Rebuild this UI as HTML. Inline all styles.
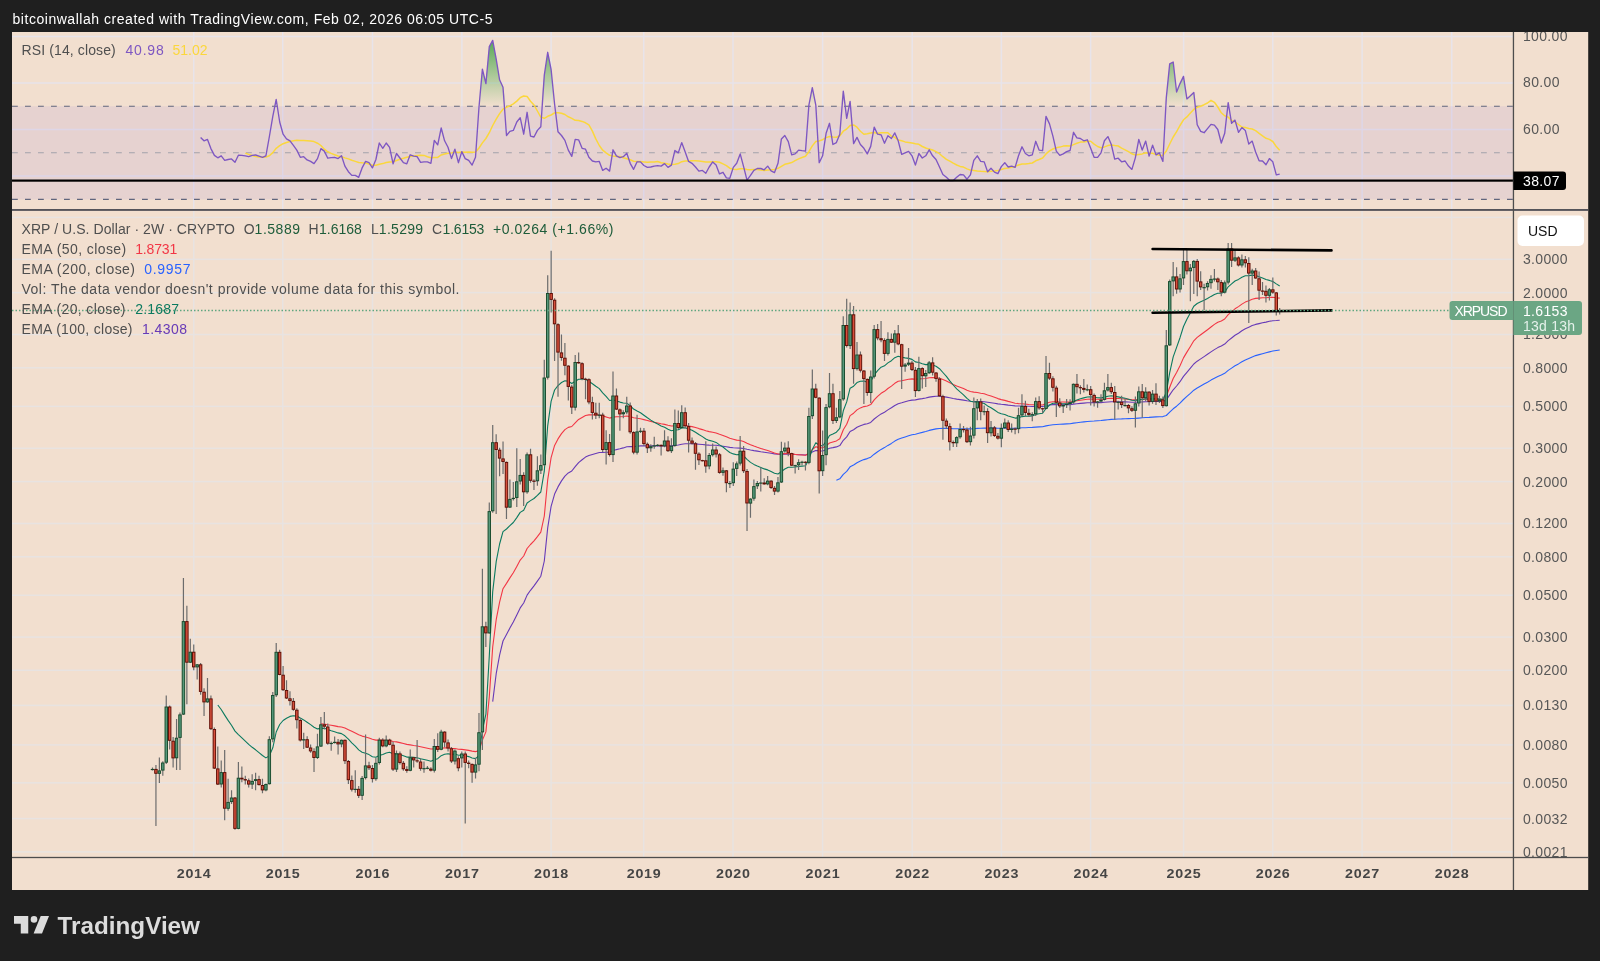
<!DOCTYPE html>
<html><head><meta charset="utf-8"><title>XRPUSD chart</title>
<style>html,body{margin:0;padding:0;background:#1f1f1f;width:1600px;height:961px;overflow:hidden}</style></head>
<body>
<svg width="1600" height="961" viewBox="0 0 1600 961" style="position:absolute;left:0;top:0;will-change:transform;font-family:'Liberation Sans',sans-serif">
<rect x="0" y="0" width="1600" height="961" fill="#1f1f1f"/>
<rect x="12" y="32" width="1576.2" height="858" fill="#f2dfcf"/>
<defs>
<clipPath id="cr"><rect x="12" y="32" width="1501.45" height="178.5"/></clipPath>
<clipPath id="cm"><rect x="12" y="210.5" width="1501.45" height="647.0"/></clipPath>
<clipPath id="cax"><rect x="1513.45" y="32" width="74.75" height="178.5"/></clipPath>
<clipPath id="cax2"><rect x="1513.45" y="210.5" width="74.75" height="647.0"/></clipPath>
<linearGradient id="og" x1="0" y1="36" x2="0" y2="106.4" gradientUnits="userSpaceOnUse">
<stop offset="0" stop-color="#43a047" stop-opacity="0.95"/><stop offset="1" stop-color="#4caf50" stop-opacity="0"/></linearGradient>
</defs>
<g clip-path="url(#cr)">
<rect x="12" y="35.75" width="1501.45" height="1.5" fill="#e8e4ea"/>
<rect x="12" y="82.25" width="1501.45" height="1.5" fill="#e8e4ea"/>
<rect x="12" y="128.75" width="1501.45" height="1.5" fill="#e8e4ea"/>
<rect x="12" y="175.25" width="1501.45" height="1.5" fill="#e8e4ea"/>
<rect x="193.0" y="32" width="1.5" height="178.5" fill="#e8e4ea"/>
<rect x="282.0" y="32" width="1.5" height="178.5" fill="#e8e4ea"/>
<rect x="371.75" y="32" width="1.5" height="178.5" fill="#e8e4ea"/>
<rect x="461.15" y="32" width="1.5" height="178.5" fill="#e8e4ea"/>
<rect x="550.35" y="32" width="1.5" height="178.5" fill="#e8e4ea"/>
<rect x="642.95" y="32" width="1.5" height="178.5" fill="#e8e4ea"/>
<rect x="732.25" y="32" width="1.5" height="178.5" fill="#e8e4ea"/>
<rect x="821.85" y="32" width="1.5" height="178.5" fill="#e8e4ea"/>
<rect x="911.45" y="32" width="1.5" height="178.5" fill="#e8e4ea"/>
<rect x="1000.65" y="32" width="1.5" height="178.5" fill="#e8e4ea"/>
<rect x="1089.85" y="32" width="1.5" height="178.5" fill="#e8e4ea"/>
<rect x="1182.85" y="32" width="1.5" height="178.5" fill="#e8e4ea"/>
<rect x="1272.05" y="32" width="1.5" height="178.5" fill="#e8e4ea"/>
<rect x="1361.35" y="32" width="1.5" height="178.5" fill="#e8e4ea"/>
<rect x="1450.95" y="32" width="1.5" height="178.5" fill="#e8e4ea"/>
<rect x="12" y="106.24" width="1501.45" height="93.16" fill="#9c7bd8" fill-opacity="0.13"/>
<line x1="12" x2="1513.45" y1="106.24" y2="106.24" stroke="#60657d" stroke-width="1.1" stroke-dasharray="5.8 7.2"/>
<line x1="12" x2="1513.45" y1="152.82" y2="152.82" stroke="#a3a2ab" stroke-width="1.1" stroke-dasharray="5.8 7.2"/>
<line x1="12" x2="1513.45" y1="199.40" y2="199.40" stroke="#60657d" stroke-width="1.1" stroke-dasharray="5.8 7.2"/>
<path d="M200.6 106.2L204.0 106.2L207.5 106.2L210.9 106.2L214.4 106.2L217.8 106.2L221.2 106.2L224.7 106.2L228.1 106.2L231.5 106.2L235.0 106.2L238.4 106.2L241.9 106.2L245.3 106.2L248.7 106.2L252.2 106.2L255.6 106.2L259.0 106.2L262.5 106.2L265.9 106.2L269.3 106.2L272.8 106.2L276.2 99.5L279.7 106.2L283.1 106.2L286.5 106.2L290.0 106.2L293.4 106.2L296.8 106.2L300.3 106.2L303.7 106.2L307.1 106.2L310.6 106.2L314.0 106.2L317.5 106.2L320.9 106.2L324.3 106.2L327.8 106.2L331.2 106.2L334.6 106.2L338.1 106.2L341.5 106.2L344.9 106.2L348.4 106.2L351.8 106.2L355.3 106.2L358.7 106.2L362.1 106.2L365.6 106.2L369.0 106.2L372.4 106.2L375.9 106.2L379.3 106.2L382.8 106.2L386.2 106.2L389.6 106.2L393.1 106.2L396.5 106.2L399.9 106.2L403.4 106.2L406.8 106.2L410.2 106.2L413.7 106.2L417.1 106.2L420.6 106.2L424.0 106.2L427.4 106.2L430.9 106.2L434.3 106.2L437.7 106.2L441.2 106.2L444.6 106.2L448.0 106.2L451.5 106.2L454.9 106.2L458.4 106.2L461.8 106.2L465.2 106.2L468.7 106.2L472.1 106.2L475.5 106.2L479.0 106.2L482.4 69.1L485.9 83.6L489.3 46.6L492.7 40.4L496.2 59.2L499.6 79.8L503.0 87.3L506.5 106.2L509.9 106.2L513.3 106.2L516.8 106.2L520.2 106.2L523.7 106.2L527.1 106.2L530.5 106.2L534.0 106.2L537.4 106.2L540.8 106.2L544.3 75.1L547.7 52.3L551.1 69.5L554.6 104.2L558.0 106.2L561.5 106.2L564.9 106.2L568.3 106.2L571.8 106.2L575.2 106.2L578.6 106.2L582.1 106.2L585.5 106.2L588.9 106.2L592.4 106.2L595.8 106.2L599.3 106.2L602.7 106.2L606.1 106.2L609.6 106.2L613.0 106.2L616.4 106.2L619.9 106.2L623.3 106.2L626.8 106.2L630.2 106.2L633.6 106.2L637.1 106.2L640.5 106.2L643.9 106.2L647.4 106.2L650.8 106.2L654.2 106.2L657.7 106.2L661.1 106.2L664.6 106.2L668.0 106.2L671.4 106.2L674.9 106.2L678.3 106.2L681.7 106.2L685.2 106.2L688.6 106.2L692.0 106.2L695.5 106.2L698.9 106.2L702.4 106.2L705.8 106.2L709.2 106.2L712.7 106.2L716.1 106.2L719.5 106.2L723.0 106.2L726.4 106.2L729.8 106.2L733.3 106.2L736.7 106.2L740.2 106.2L743.6 106.2L747.0 106.2L750.5 106.2L753.9 106.2L757.3 106.2L760.8 106.2L764.2 106.2L767.7 106.2L771.1 106.2L774.5 106.2L778.0 106.2L781.4 106.2L784.8 106.2L788.3 106.2L791.7 106.2L795.1 106.2L798.6 106.2L802.0 106.2L805.5 106.2L808.9 105.1L812.3 87.7L815.8 105.1L819.2 106.2L822.6 106.2L826.1 106.2L829.5 106.2L832.9 106.2L836.4 106.2L839.8 106.2L843.3 91.1L846.7 106.2L850.1 101.4L853.6 106.2L857.0 106.2L860.4 106.2L863.9 106.2L867.3 106.2L870.7 106.2L874.2 106.2L877.6 106.2L881.1 106.2L884.5 106.2L887.9 106.2L891.4 106.2L894.8 106.2L898.2 106.2L901.7 106.2L905.1 106.2L908.6 106.2L912.0 106.2L915.4 106.2L918.9 106.2L922.3 106.2L925.7 106.2L929.2 106.2L932.6 106.2L936.0 106.2L939.5 106.2L942.9 106.2L946.4 106.2L949.8 106.2L953.2 106.2L956.7 106.2L960.1 106.2L963.5 106.2L967.0 106.2L970.4 106.2L973.8 106.2L977.3 106.2L980.7 106.2L984.2 106.2L987.6 106.2L991.0 106.2L994.5 106.2L997.9 106.2L1001.3 106.2L1004.8 106.2L1008.2 106.2L1011.6 106.2L1015.1 106.2L1018.5 106.2L1022.0 106.2L1025.4 106.2L1028.8 106.2L1032.3 106.2L1035.7 106.2L1039.1 106.2L1042.6 106.2L1046.0 106.2L1049.5 106.2L1052.9 106.2L1056.3 106.2L1059.8 106.2L1063.2 106.2L1066.6 106.2L1070.1 106.2L1073.5 106.2L1076.9 106.2L1080.4 106.2L1083.8 106.2L1087.3 106.2L1090.7 106.2L1094.1 106.2L1097.6 106.2L1101.0 106.2L1104.4 106.2L1107.9 106.2L1111.3 106.2L1114.7 106.2L1118.2 106.2L1121.6 106.2L1125.1 106.2L1128.5 106.2L1131.9 106.2L1135.4 106.2L1138.8 106.2L1142.2 106.2L1145.7 106.2L1149.1 106.2L1152.6 106.2L1156.0 106.2L1159.4 106.2L1162.9 106.2L1166.3 97.6L1169.7 63.9L1173.2 62.0L1176.6 92.0L1180.0 83.6L1183.5 76.4L1186.9 98.9L1190.4 95.8L1193.8 92.4L1197.2 106.2L1200.7 106.2L1204.1 106.2L1207.5 106.2L1211.0 106.2L1214.4 106.2L1217.8 106.2L1221.3 106.2L1224.7 106.2L1228.2 102.7L1231.6 106.2L1235.0 106.2L1238.5 106.2L1241.9 106.2L1245.3 106.2L1248.8 106.2L1252.2 106.2L1255.6 106.2L1259.1 106.2L1262.5 106.2L1266.0 106.2L1269.4 106.2L1272.8 106.2L1276.3 106.2L1279.7 106.2L1279.7 106.2L200.6 106.2Z" fill="url(#og)" stroke="none"/>
<path d="M245.3 153.1 L248.7 154.4 L252.2 155.5 L255.6 156.6 L259.0 157.1 L262.5 157.3 L265.9 157.1 L269.3 155.8 L272.8 152.6 L276.2 148.3 L279.7 145.7 L283.1 143.7 L286.5 142.5 L290.0 141.5 L293.4 140.7 L296.8 140.3 L300.3 140.4 L303.7 140.5 L307.1 140.8 L310.6 141.1 L314.0 141.6 L317.5 143.2 L320.9 145.5 L324.3 149.2 L327.8 151.8 L331.2 153.4 L334.6 154.7 L338.1 156.0 L341.5 156.8 L344.9 157.9 L348.4 158.9 L351.8 160.3 L355.3 161.4 L358.7 162.5 L362.1 162.8 L365.6 163.0 L369.0 164.0 L372.4 165.2 L375.9 165.3 L379.3 164.3 L382.8 163.6 L386.2 162.5 L389.6 161.9 L393.1 161.8 L396.5 160.5 L399.9 159.2 L403.4 158.3 L406.8 157.3 L410.2 156.4 L413.7 156.0 L417.1 155.6 L420.6 155.2 L424.0 155.4 L427.4 156.7 L430.9 157.8 L434.3 157.6 L437.7 157.4 L441.2 154.9 L444.6 154.0 L448.0 153.2 L451.5 152.9 L454.9 151.9 L458.4 152.4 L461.8 152.1 L465.2 152.2 L468.7 152.1 L472.1 152.3 L475.5 152.0 L479.0 148.0 L482.4 142.9 L485.9 138.5 L489.3 132.7 L492.7 125.5 L496.2 119.2 L499.6 113.6 L503.0 109.2 L506.5 107.3 L509.9 105.8 L513.3 103.8 L516.8 101.1 L520.2 97.7 L523.7 96.0 L527.1 96.4 L530.5 101.2 L534.0 105.0 L537.4 111.0 L540.8 117.1 L544.3 118.3 L547.7 116.3 L551.1 115.0 L554.6 112.8 L558.0 112.8 L561.5 113.2 L564.9 114.5 L568.3 116.8 L571.8 118.4 L575.2 120.3 L578.6 120.6 L582.1 121.4 L585.5 122.8 L588.9 124.9 L592.4 131.1 L595.8 138.9 L599.3 145.5 L602.7 150.2 L606.1 152.8 L609.6 155.3 L613.0 156.0 L616.4 156.4 L619.9 156.5 L623.3 157.7 L626.8 158.7 L630.2 159.8 L633.6 161.2 L637.1 161.5 L640.5 161.6 L643.9 161.9 L647.4 162.3 L650.8 162.0 L654.2 161.9 L657.7 161.5 L661.1 162.7 L664.6 163.2 L668.0 163.9 L671.4 164.5 L674.9 164.3 L678.3 163.6 L681.7 161.7 L685.2 161.0 L688.6 160.9 L692.0 160.8 L695.5 160.8 L698.9 161.1 L702.4 161.4 L705.8 161.9 L709.2 162.0 L712.7 161.8 L716.1 161.7 L719.5 162.3 L723.0 163.9 L726.4 165.6 L729.8 168.2 L733.3 169.3 L736.7 169.4 L740.2 168.8 L743.6 168.7 L747.0 169.4 L750.5 169.7 L753.9 169.5 L757.3 169.6 L760.8 170.1 L764.2 170.4 L767.7 169.9 L771.1 169.8 L774.5 169.4 L778.0 168.3 L781.4 166.3 L784.8 164.3 L788.3 163.4 L791.7 162.6 L795.1 160.7 L798.6 158.9 L802.0 157.5 L805.5 156.3 L808.9 151.7 L812.3 145.9 L815.8 141.5 L819.2 140.9 L822.6 139.7 L826.1 137.6 L829.5 136.5 L832.9 137.1 L836.4 137.2 L839.8 135.7 L843.3 131.2 L846.7 129.0 L850.1 125.4 L853.6 124.9 L857.0 127.2 L860.4 131.3 L863.9 134.3 L867.3 133.7 L870.7 133.0 L874.2 132.6 L877.6 133.4 L881.1 132.7 L884.5 132.7 L887.9 132.8 L891.4 136.2 L894.8 137.3 L898.2 140.1 L901.7 140.8 L905.1 141.9 L908.6 142.4 L912.0 143.0 L915.4 143.8 L918.9 144.3 L922.3 146.5 L925.7 148.0 L929.2 149.1 L932.6 150.0 L936.0 151.7 L939.5 153.7 L942.9 156.7 L946.4 159.3 L949.8 161.2 L953.2 163.2 L956.7 165.0 L960.1 166.4 L963.5 167.1 L967.0 168.9 L970.4 170.1 L973.8 170.4 L977.3 170.9 L980.7 171.3 L984.2 171.4 L987.6 171.8 L991.0 171.3 L994.5 171.0 L997.9 170.5 L1001.3 169.5 L1004.8 168.4 L1008.2 167.9 L1011.6 167.3 L1015.1 166.4 L1018.5 165.0 L1022.0 164.1 L1025.4 163.9 L1028.8 163.5 L1032.3 163.0 L1035.7 160.8 L1039.1 159.5 L1042.6 158.0 L1046.0 153.9 L1049.5 150.9 L1052.9 149.0 L1056.3 147.8 L1059.8 147.1 L1063.2 146.1 L1066.6 145.8 L1070.1 146.1 L1073.5 144.6 L1076.9 143.3 L1080.4 142.1 L1083.8 142.1 L1087.3 141.3 L1090.7 141.2 L1094.1 144.1 L1097.6 146.5 L1101.0 147.7 L1104.4 146.9 L1107.9 145.6 L1111.3 144.9 L1114.7 145.5 L1118.2 146.0 L1121.6 148.1 L1125.1 149.8 L1128.5 151.7 L1131.9 153.8 L1135.4 155.1 L1138.8 154.4 L1142.2 153.9 L1145.7 152.8 L1149.1 153.0 L1152.6 153.3 L1156.0 154.6 L1159.4 155.2 L1162.9 155.4 L1166.3 151.0 L1169.7 144.0 L1173.2 137.0 L1176.6 131.7 L1180.0 125.5 L1183.5 119.8 L1186.9 116.9 L1190.4 113.0 L1193.8 109.5 L1197.2 107.3 L1200.7 106.3 L1204.1 104.7 L1207.5 103.0 L1211.0 100.3 L1214.4 102.3 L1217.8 107.0 L1221.3 112.8 L1224.7 115.7 L1228.2 117.1 L1231.6 120.4 L1235.0 121.9 L1238.5 124.5 L1241.9 127.1 L1245.3 127.5 L1248.8 128.4 L1252.2 129.0 L1255.6 130.7 L1259.1 133.3 L1262.5 135.8 L1266.0 138.3 L1269.4 139.4 L1272.8 141.5 L1276.3 146.6 L1279.7 150.3" stroke="#fbd73c" stroke-width="1.5" fill="none" stroke-linejoin="round"/>
<path d="M200.6 137.4 L204.0 140.8 L207.5 139.4 L210.9 148.6 L214.4 155.4 L217.8 157.8 L221.2 155.8 L224.7 160.4 L228.1 159.5 L231.5 158.9 L235.0 162.3 L238.4 155.2 L241.9 155.4 L245.3 155.9 L248.7 156.7 L252.2 155.4 L255.6 155.0 L259.0 156.1 L262.5 157.3 L265.9 155.8 L269.3 137.0 L272.8 116.4 L276.2 99.5 L279.7 122.0 L283.1 134.2 L286.5 138.9 L290.0 140.8 L293.4 145.4 L296.8 150.1 L300.3 157.3 L303.7 156.7 L307.1 159.9 L310.6 161.4 L314.0 163.6 L317.5 158.6 L320.9 148.6 L324.3 151.1 L327.8 158.2 L331.2 157.6 L334.6 157.3 L338.1 158.6 L341.5 155.8 L344.9 166.1 L348.4 171.7 L351.8 175.4 L355.3 175.4 L358.7 177.3 L362.1 167.9 L365.6 161.4 L369.0 162.7 L372.4 167.9 L375.9 159.5 L379.3 143.0 L382.8 148.3 L386.2 143.0 L389.6 147.3 L393.1 163.8 L396.5 153.5 L399.9 158.0 L403.4 162.7 L406.8 163.8 L410.2 154.8 L413.7 156.1 L417.1 156.7 L420.6 162.3 L424.0 161.8 L427.4 161.9 L430.9 163.3 L434.3 140.4 L437.7 144.9 L441.2 128.0 L444.6 140.8 L448.0 147.3 L451.5 158.6 L454.9 149.2 L458.4 162.7 L461.8 151.6 L465.2 158.6 L468.7 160.4 L472.1 165.1 L475.5 157.3 L479.0 107.0 L482.4 69.1 L485.9 83.6 L489.3 46.6 L492.7 40.4 L496.2 59.2 L499.6 79.8 L503.0 87.3 L506.5 135.5 L509.9 131.4 L513.3 130.4 L516.8 122.0 L520.2 117.7 L523.7 134.2 L527.1 112.3 L530.5 136.1 L534.0 137.0 L537.4 130.4 L540.8 126.7 L544.3 75.1 L547.7 52.3 L551.1 69.5 L554.6 104.2 L558.0 131.8 L561.5 135.5 L564.9 140.4 L568.3 150.1 L571.8 156.3 L575.2 139.4 L578.6 139.8 L582.1 148.3 L585.5 149.2 L588.9 157.3 L592.4 161.0 L595.8 161.8 L599.3 161.4 L602.7 170.4 L606.1 168.3 L609.6 171.1 L613.0 149.8 L616.4 155.8 L619.9 157.6 L623.3 156.7 L626.8 153.3 L630.2 163.3 L633.6 169.3 L637.1 161.8 L640.5 161.9 L643.9 165.5 L647.4 167.4 L650.8 167.0 L654.2 166.1 L657.7 165.7 L661.1 166.1 L664.6 163.6 L668.0 167.4 L671.4 165.1 L674.9 150.5 L678.3 152.9 L681.7 142.6 L685.2 152.0 L688.6 161.4 L692.0 163.3 L695.5 167.0 L698.9 171.1 L702.4 170.4 L705.8 173.2 L709.2 167.0 L712.7 161.9 L716.1 165.1 L719.5 173.9 L723.0 172.3 L726.4 177.9 L729.8 178.3 L733.3 167.4 L736.7 163.3 L740.2 153.9 L743.6 166.6 L747.0 180.1 L750.5 175.4 L753.9 170.4 L757.3 168.5 L760.8 168.5 L764.2 169.8 L767.7 166.1 L771.1 170.8 L774.5 172.6 L778.0 163.3 L781.4 138.9 L784.8 135.5 L788.3 141.7 L791.7 154.8 L795.1 153.9 L798.6 150.1 L802.0 150.7 L805.5 151.1 L808.9 105.1 L812.3 87.7 L815.8 105.1 L819.2 162.7 L822.6 155.8 L826.1 133.3 L829.5 123.3 L832.9 144.5 L836.4 142.6 L839.8 134.2 L843.3 91.1 L846.7 118.3 L850.1 101.4 L853.6 143.6 L857.0 137.4 L860.4 144.5 L863.9 148.3 L867.3 153.9 L870.7 146.4 L874.2 127.1 L877.6 134.2 L881.1 134.8 L884.5 143.2 L887.9 135.7 L891.4 138.5 L894.8 132.9 L898.2 140.8 L901.7 154.3 L905.1 152.9 L908.6 151.4 L912.0 155.8 L915.4 165.1 L918.9 153.5 L922.3 158.0 L925.7 155.8 L929.2 149.8 L932.6 155.8 L936.0 159.5 L939.5 167.0 L942.9 174.5 L946.4 177.3 L949.8 180.5 L953.2 180.5 L956.7 177.3 L960.1 174.5 L963.5 174.9 L967.0 179.2 L970.4 174.9 L973.8 160.4 L977.3 155.8 L980.7 161.4 L984.2 161.9 L987.6 171.7 L991.0 168.3 L994.5 172.1 L997.9 173.6 L1001.3 166.6 L1004.8 162.7 L1008.2 167.0 L1011.6 166.1 L1015.1 167.4 L1018.5 155.8 L1022.0 146.8 L1025.4 153.5 L1028.8 155.8 L1032.3 154.8 L1035.7 141.3 L1039.1 150.1 L1042.6 150.7 L1046.0 116.4 L1049.5 123.9 L1052.9 136.1 L1056.3 151.1 L1059.8 155.4 L1063.2 153.9 L1066.6 151.6 L1070.1 150.5 L1073.5 132.3 L1076.9 137.9 L1080.4 138.5 L1083.8 140.8 L1087.3 139.8 L1090.7 148.3 L1094.1 157.3 L1097.6 157.3 L1101.0 152.9 L1104.4 140.8 L1107.9 136.6 L1111.3 144.5 L1114.7 159.1 L1118.2 158.2 L1121.6 161.8 L1125.1 161.0 L1128.5 166.1 L1131.9 169.4 L1135.4 157.6 L1138.8 139.4 L1142.2 150.1 L1145.7 141.1 L1149.1 156.1 L1152.6 145.1 L1156.0 154.8 L1159.4 152.9 L1162.9 161.4 L1166.3 97.6 L1169.7 63.9 L1173.2 62.0 L1176.6 92.0 L1180.0 83.6 L1183.5 76.4 L1186.9 98.9 L1190.4 95.8 L1193.8 92.4 L1197.2 124.8 L1200.7 131.4 L1204.1 132.7 L1207.5 128.6 L1211.0 124.4 L1214.4 125.2 L1217.8 129.5 L1221.3 143.0 L1224.7 133.3 L1228.2 102.7 L1231.6 123.3 L1235.0 120.1 L1238.5 132.3 L1241.9 127.6 L1245.3 130.4 L1248.8 144.1 L1252.2 141.1 L1255.6 152.0 L1259.1 160.8 L1262.5 161.0 L1266.0 164.8 L1269.4 158.6 L1272.8 161.8 L1276.3 174.9 L1279.7 174.1" stroke="#7e57c2" stroke-width="1.35" fill="none" stroke-linejoin="round"/>
<rect x="12" y="179.5" width="1501.45" height="2.2" fill="#000"/>
</g>
<g clip-path="url(#cm)">
<rect x="12" y="258.5511944792916" width="1501.45" height="1.5" fill="#e8e3e1"/>
<rect x="12" y="291.83851157865007" width="1501.45" height="1.5" fill="#e8e3e1"/>
<rect x="12" y="333.77455880560325" width="1501.45" height="1.5" fill="#e8e3e1"/>
<rect x="12" y="367.0598237042494" width="1501.45" height="1.5" fill="#e8e3e1"/>
<rect x="12" y="405.6409651657526" width="1501.45" height="1.5" fill="#e8e3e1"/>
<rect x="12" y="447.5688051285905" width="1501.45" height="1.5" fill="#e8e3e1"/>
<rect x="12" y="480.84381286992004" width="1501.45" height="1.5" fill="#e8e3e1"/>
<rect x="12" y="522.7552481464779" width="1501.45" height="1.5" fill="#e8e3e1"/>
<rect x="12" y="556.0097607849323" width="1501.45" height="1.5" fill="#e8e3e1"/>
<rect x="12" y="594.5355836401772" width="1501.45" height="1.5" fill="#e8e3e1"/>
<rect x="12" y="636.3651918033619" width="1501.45" height="1.5" fill="#e8e3e1"/>
<rect x="12" y="669.5176115875945" width="1501.45" height="1.5" fill="#e8e3e1"/>
<rect x="12" y="704.6652443044301" width="1501.45" height="1.5" fill="#e8e3e1"/>
<rect x="12" y="744.1346689406373" width="1501.45" height="1.5" fill="#e8e3e1"/>
<rect x="12" y="782.1160600925774" width="1501.45" height="1.5" fill="#e8e3e1"/>
<rect x="12" y="817.8556737428466" width="1501.45" height="1.5" fill="#e8e3e1"/>
<rect x="12" y="851.1443591185268" width="1501.45" height="1.5" fill="#e8e3e1"/>
<rect x="12" y="216.61350540558016" width="1501.45" height="1.5" fill="#e8e3e1"/>
<rect x="193.0" y="210.5" width="1.5" height="647.0" fill="#e8e3e1"/>
<rect x="282.0" y="210.5" width="1.5" height="647.0" fill="#e8e3e1"/>
<rect x="371.75" y="210.5" width="1.5" height="647.0" fill="#e8e3e1"/>
<rect x="461.15" y="210.5" width="1.5" height="647.0" fill="#e8e3e1"/>
<rect x="550.35" y="210.5" width="1.5" height="647.0" fill="#e8e3e1"/>
<rect x="642.95" y="210.5" width="1.5" height="647.0" fill="#e8e3e1"/>
<rect x="732.25" y="210.5" width="1.5" height="647.0" fill="#e8e3e1"/>
<rect x="821.85" y="210.5" width="1.5" height="647.0" fill="#e8e3e1"/>
<rect x="911.45" y="210.5" width="1.5" height="647.0" fill="#e8e3e1"/>
<rect x="1000.65" y="210.5" width="1.5" height="647.0" fill="#e8e3e1"/>
<rect x="1089.85" y="210.5" width="1.5" height="647.0" fill="#e8e3e1"/>
<rect x="1182.85" y="210.5" width="1.5" height="647.0" fill="#e8e3e1"/>
<rect x="1272.05" y="210.5" width="1.5" height="647.0" fill="#e8e3e1"/>
<rect x="1361.35" y="210.5" width="1.5" height="647.0" fill="#e8e3e1"/>
<rect x="1450.95" y="210.5" width="1.5" height="647.0" fill="#e8e3e1"/>
<path d="M836.4 480.2 L839.8 478.8 L843.3 474.4 L846.7 471.4 L850.1 466.8 L853.6 465.0 L857.0 462.7 L860.4 461.0 L863.9 459.6 L867.3 458.6 L870.7 457.2 L874.2 454.2 L877.6 451.7 L881.1 449.4 L884.5 447.6 L887.9 445.4 L891.4 443.4 L894.8 441.1 L898.2 439.3 L901.7 438.1 L905.1 436.9 L908.6 435.8 L912.0 434.8 L915.4 434.2 L918.9 433.2 L922.3 432.4 L925.7 431.5 L929.2 430.4 L932.6 429.6 L936.0 428.9 L939.5 428.5 L942.9 428.4 L946.4 428.4 L949.8 428.5 L953.2 428.7 L956.7 428.7 L960.1 428.7 L963.5 428.8 L967.0 428.9 L970.4 428.9 L973.8 428.7 L977.3 428.4 L980.7 428.2 L984.2 428.0 L987.6 428.1 L991.0 428.1 L994.5 428.1 L997.9 428.2 L1001.3 428.2 L1004.8 428.2 L1008.2 428.2 L1011.6 428.2 L1015.1 428.2 L1018.5 428.1 L1022.0 427.8 L1025.4 427.7 L1028.8 427.5 L1032.3 427.4 L1035.7 427.1 L1039.1 426.9 L1042.6 426.7 L1046.0 425.9 L1049.5 425.3 L1052.9 424.8 L1056.3 424.5 L1059.8 424.3 L1063.2 424.1 L1066.6 423.9 L1070.1 423.7 L1073.5 423.1 L1076.9 422.7 L1080.4 422.3 L1083.8 421.9 L1087.3 421.5 L1090.7 421.2 L1094.1 421.0 L1097.6 420.7 L1101.0 420.5 L1104.4 420.1 L1107.9 419.7 L1111.3 419.4 L1114.7 419.2 L1118.2 419.0 L1121.6 418.9 L1125.1 418.7 L1128.5 418.6 L1131.9 418.5 L1135.4 418.4 L1138.8 418.1 L1142.2 417.8 L1145.7 417.5 L1149.1 417.4 L1152.6 417.1 L1156.0 416.9 L1159.4 416.7 L1162.9 416.6 L1166.3 415.5 L1169.7 412.2 L1173.2 408.8 L1176.6 406.2 L1180.0 403.2 L1183.5 399.5 L1186.9 396.4 L1190.4 393.4 L1193.8 390.2 L1197.2 388.0 L1200.7 386.0 L1204.1 384.1 L1207.5 382.2 L1211.0 380.1 L1214.4 378.2 L1217.8 376.4 L1221.3 374.9 L1224.7 373.3 L1228.2 370.4 L1231.6 368.1 L1235.0 365.8 L1238.5 363.9 L1241.9 361.8 L1245.3 359.9 L1248.8 358.4 L1252.2 356.9 L1255.6 355.6 L1259.1 354.6 L1262.5 353.7 L1266.0 352.8 L1269.4 351.9 L1272.8 351.0 L1276.3 350.5 L1279.7 350.0" stroke="#2962ff" stroke-width="1.1" fill="none" stroke-linejoin="round"/>
<path d="M492.7 701.6 L496.2 673.7 L499.6 655.2 L503.0 641.0 L506.5 634.6 L509.9 628.1 L513.3 622.0 L516.8 614.9 L520.2 607.9 L523.7 603.0 L527.1 595.1 L530.5 590.3 L534.0 585.9 L537.4 581.1 L540.8 576.2 L544.3 561.0 L547.7 527.9 L551.1 506.4 L554.6 494.1 L558.0 486.9 L561.5 480.9 L564.9 476.1 L568.3 472.9 L571.8 471.0 L575.2 466.6 L578.6 462.6 L582.1 459.8 L585.5 457.1 L588.9 455.6 L592.4 454.5 L595.8 453.5 L599.3 452.5 L602.7 452.5 L606.1 452.2 L609.6 452.3 L613.0 450.7 L616.4 449.6 L619.9 448.8 L623.3 447.9 L626.8 446.8 L630.2 446.5 L633.6 446.6 L637.1 446.2 L640.5 445.9 L643.9 445.9 L647.4 445.9 L650.8 445.9 L654.2 445.9 L657.7 445.9 L661.1 445.9 L664.6 445.8 L668.0 445.9 L671.4 445.9 L674.9 445.4 L678.3 445.0 L681.7 444.2 L685.2 443.8 L688.6 443.7 L692.0 443.7 L695.5 443.9 L698.9 444.2 L702.4 444.5 L705.8 444.9 L709.2 445.1 L712.7 445.2 L716.1 445.3 L719.5 445.8 L723.0 446.2 L726.4 446.8 L729.8 447.4 L733.3 447.8 L736.7 448.0 L740.2 448.1 L743.6 448.5 L747.0 449.3 L750.5 450.0 L753.9 450.6 L757.3 451.1 L760.8 451.7 L764.2 452.2 L767.7 452.7 L771.1 453.3 L774.5 453.9 L778.0 454.3 L781.4 454.3 L784.8 454.1 L788.3 454.1 L791.7 454.3 L795.1 454.5 L798.6 454.7 L802.0 454.8 L805.5 455.0 L808.9 454.0 L812.3 452.0 L815.8 450.5 L819.2 450.9 L822.6 451.0 L826.1 449.8 L829.5 448.2 L832.9 447.6 L836.4 446.9 L839.8 445.6 L843.3 440.3 L846.7 436.9 L850.1 431.5 L853.6 429.7 L857.0 427.3 L860.4 425.7 L863.9 424.4 L867.3 423.7 L870.7 422.4 L874.2 419.0 L877.6 416.4 L881.1 413.9 L884.5 412.2 L887.9 409.9 L891.4 407.8 L894.8 405.5 L898.2 403.7 L901.7 402.8 L905.1 401.8 L908.6 400.8 L912.0 400.1 L915.4 399.9 L918.9 399.1 L922.3 398.6 L925.7 398.0 L929.2 397.1 L932.6 396.6 L936.0 396.2 L939.5 396.2 L942.9 396.6 L946.4 397.1 L949.8 397.8 L953.2 398.5 L956.7 399.1 L960.1 399.6 L963.5 400.1 L967.0 400.8 L970.4 401.3 L973.8 401.5 L977.3 401.5 L980.7 401.6 L984.2 401.8 L987.6 402.3 L991.0 402.8 L994.5 403.3 L997.9 403.9 L1001.3 404.3 L1004.8 404.6 L1008.2 405.1 L1011.6 405.5 L1015.1 405.9 L1018.5 406.0 L1022.0 406.0 L1025.4 406.2 L1028.8 406.3 L1032.3 406.5 L1035.7 406.4 L1039.1 406.4 L1042.6 406.5 L1046.0 405.7 L1049.5 405.0 L1052.9 404.6 L1056.3 404.6 L1059.8 404.6 L1063.2 404.6 L1066.6 404.6 L1070.1 404.6 L1073.5 404.1 L1076.9 403.7 L1080.4 403.4 L1083.8 403.1 L1087.3 402.8 L1090.7 402.7 L1094.1 402.6 L1097.6 402.6 L1101.0 402.6 L1104.4 402.3 L1107.9 402.0 L1111.3 401.8 L1114.7 401.8 L1118.2 401.8 L1121.6 401.8 L1125.1 401.9 L1128.5 402.0 L1131.9 402.2 L1135.4 402.2 L1138.8 402.0 L1142.2 401.9 L1145.7 401.7 L1149.1 401.7 L1152.6 401.5 L1156.0 401.5 L1159.4 401.5 L1162.9 401.6 L1166.3 400.0 L1169.7 394.9 L1173.2 389.8 L1176.6 386.0 L1180.0 381.7 L1183.5 376.4 L1186.9 372.3 L1190.4 368.2 L1193.8 364.0 L1197.2 361.2 L1200.7 358.9 L1204.1 356.6 L1207.5 354.3 L1211.0 351.9 L1214.4 349.6 L1217.8 347.6 L1221.3 346.0 L1224.7 344.1 L1228.2 340.6 L1231.6 338.0 L1235.0 335.3 L1238.5 333.2 L1241.9 330.8 L1245.3 328.8 L1248.8 327.2 L1252.2 325.6 L1255.6 324.4 L1259.1 323.6 L1262.5 322.8 L1266.0 322.1 L1269.4 321.3 L1272.8 320.7 L1276.3 320.5 L1279.7 320.2" stroke="#673ab7" stroke-width="1.1" fill="none" stroke-linejoin="round"/>
<path d="M320.9 723.9 L324.3 724.0 L327.8 724.7 L331.2 725.3 L334.6 725.9 L338.1 726.6 L341.5 727.0 L344.9 728.1 L348.4 729.7 L351.8 731.3 L355.3 733.0 L358.7 734.7 L362.1 736.1 L365.6 737.0 L369.0 738.1 L372.4 739.3 L375.9 740.1 L379.3 740.1 L382.8 740.4 L386.2 740.3 L389.6 740.5 L393.1 741.5 L396.5 741.9 L399.9 742.6 L403.4 743.5 L406.8 744.4 L410.2 744.9 L413.7 745.5 L417.1 746.0 L420.6 746.8 L424.0 747.5 L427.4 748.2 L430.9 749.0 L434.3 748.9 L437.7 748.9 L441.2 748.2 L444.6 747.9 L448.0 748.0 L451.5 748.4 L454.9 748.5 L458.4 749.2 L461.8 749.4 L465.2 749.9 L468.7 750.4 L472.1 751.1 L475.5 751.6 L479.0 750.8 L482.4 740.1 L485.9 731.9 L489.3 696.6 L492.7 647.0 L496.2 619.7 L499.6 602.1 L503.0 588.7 L506.5 583.4 L509.9 577.9 L513.3 572.7 L516.8 566.4 L520.2 560.1 L523.7 556.0 L527.1 548.5 L530.5 544.5 L534.0 540.8 L537.4 536.6 L540.8 532.2 L544.3 516.0 L547.7 479.9 L551.1 457.6 L554.6 445.4 L558.0 438.9 L561.5 433.6 L564.9 429.6 L568.3 427.4 L571.8 426.5 L575.2 422.8 L578.6 419.4 L582.1 417.4 L585.5 415.5 L588.9 414.9 L592.4 414.9 L595.8 414.9 L599.3 414.9 L602.7 416.0 L606.1 416.9 L609.6 418.1 L613.0 417.1 L616.4 416.8 L619.9 416.7 L623.3 416.5 L626.8 416.0 L630.2 416.6 L633.6 417.8 L637.1 418.3 L640.5 418.7 L643.9 419.6 L647.4 420.5 L650.8 421.4 L654.2 422.2 L657.7 423.0 L661.1 423.8 L664.6 424.4 L668.0 425.3 L671.4 426.0 L674.9 425.9 L678.3 426.0 L681.7 425.4 L685.2 425.4 L688.6 426.0 L692.0 426.6 L695.5 427.5 L698.9 428.6 L702.4 429.6 L705.8 430.8 L709.2 431.6 L712.7 432.2 L716.1 433.0 L719.5 434.3 L723.0 435.4 L726.4 436.8 L729.8 438.2 L733.3 439.2 L736.7 440.1 L740.2 440.5 L743.6 441.5 L747.0 443.2 L750.5 444.8 L753.9 446.1 L757.3 447.3 L760.8 448.4 L764.2 449.5 L767.7 450.6 L771.1 451.7 L774.5 453.0 L778.0 454.0 L781.4 453.9 L784.8 453.6 L788.3 453.6 L791.7 454.0 L795.1 454.4 L798.6 454.7 L802.0 455.0 L805.5 455.3 L808.9 453.3 L812.3 449.6 L815.8 446.8 L819.2 447.6 L822.6 447.9 L826.1 445.8 L829.5 443.0 L832.9 442.0 L836.4 440.9 L839.8 438.8 L843.3 429.7 L846.7 424.2 L850.1 415.6 L853.6 413.2 L857.0 409.9 L860.4 407.9 L863.9 406.6 L867.3 406.0 L870.7 404.6 L874.2 399.9 L877.6 396.4 L881.1 393.3 L884.5 391.3 L887.9 388.5 L891.4 386.1 L894.8 383.3 L898.2 381.3 L901.7 380.7 L905.1 380.0 L908.6 379.3 L912.0 378.9 L915.4 379.3 L918.9 378.9 L922.3 378.7 L925.7 378.5 L929.2 377.8 L932.6 377.6 L936.0 377.7 L939.5 378.3 L942.9 379.6 L946.4 381.0 L949.8 382.7 L953.2 384.4 L956.7 386.0 L960.1 387.3 L963.5 388.6 L967.0 390.2 L970.4 391.5 L973.8 392.1 L977.3 392.5 L980.7 393.2 L984.2 393.8 L987.6 395.0 L991.0 396.1 L994.5 397.3 L997.9 398.6 L1001.3 399.6 L1004.8 400.4 L1008.2 401.4 L1011.6 402.3 L1015.1 403.2 L1018.5 403.6 L1022.0 403.7 L1025.4 404.1 L1028.8 404.5 L1032.3 404.8 L1035.7 404.7 L1039.1 404.8 L1042.6 405.0 L1046.0 403.5 L1049.5 402.3 L1052.9 401.7 L1056.3 401.7 L1059.8 401.9 L1063.2 402.0 L1066.6 402.1 L1070.1 402.1 L1073.5 401.3 L1076.9 400.7 L1080.4 400.2 L1083.8 399.7 L1087.3 399.3 L1090.7 399.1 L1094.1 399.3 L1097.6 399.3 L1101.0 399.4 L1104.4 399.0 L1107.9 398.5 L1111.3 398.2 L1114.7 398.4 L1118.2 398.5 L1121.6 398.8 L1125.1 399.0 L1128.5 399.4 L1131.9 399.8 L1135.4 399.9 L1138.8 399.6 L1142.2 399.5 L1145.7 399.2 L1149.1 399.3 L1152.6 399.1 L1156.0 399.2 L1159.4 399.2 L1162.9 399.4 L1166.3 396.5 L1169.7 387.2 L1173.2 378.5 L1176.6 372.4 L1180.0 365.8 L1183.5 357.9 L1186.9 352.1 L1190.4 346.5 L1193.8 340.8 L1197.2 337.4 L1200.7 334.8 L1204.1 332.3 L1207.5 329.7 L1211.0 327.0 L1214.4 324.4 L1217.8 322.3 L1221.3 320.9 L1224.7 319.0 L1228.2 314.7 L1231.6 311.8 L1235.0 308.8 L1238.5 306.6 L1241.9 304.1 L1245.3 302.1 L1248.8 300.8 L1252.2 299.3 L1255.6 298.4 L1259.1 298.1 L1262.5 297.8 L1266.0 297.7 L1269.4 297.4 L1272.8 297.2 L1276.3 297.7 L1279.7 298.1" stroke="#f23645" stroke-width="1.1" fill="none" stroke-linejoin="round"/>
<path d="M217.8 705.0 L221.2 709.5 L224.7 715.1 L228.1 720.4 L231.5 725.3 L235.0 731.1 L238.4 734.6 L241.9 737.9 L245.3 741.1 L248.7 744.4 L252.2 747.3 L255.6 749.8 L259.0 752.6 L262.5 755.5 L265.9 757.9 L269.3 755.9 L272.8 747.8 L276.2 732.0 L279.7 724.5 L283.1 720.5 L286.5 718.2 L290.0 716.4 L293.4 715.7 L296.8 716.1 L300.3 718.1 L303.7 719.9 L307.1 722.2 L310.6 724.6 L314.0 727.2 L317.5 728.9 L320.9 728.4 L324.3 728.3 L327.8 729.6 L331.2 730.8 L334.6 731.8 L338.1 732.9 L341.5 733.6 L344.9 735.8 L348.4 739.1 L351.8 742.8 L355.3 746.2 L358.7 749.9 L362.1 752.2 L365.6 753.3 L369.0 754.6 L372.4 756.7 L375.9 757.3 L379.3 755.4 L382.8 754.5 L386.2 753.0 L389.6 752.2 L393.1 753.7 L396.5 753.6 L399.9 754.5 L403.4 755.8 L406.8 757.1 L410.2 757.1 L413.7 757.4 L417.1 757.7 L420.6 758.7 L424.0 759.5 L427.4 760.3 L430.9 761.2 L434.3 759.7 L437.7 758.7 L441.2 755.7 L444.6 754.3 L448.0 753.7 L451.5 754.4 L454.9 754.1 L458.4 755.3 L461.8 755.1 L465.2 755.8 L468.7 756.6 L472.1 758.0 L475.5 758.6 L479.0 755.7 L482.4 730.1 L485.9 714.2 L489.3 655.9 L492.7 591.6 L496.2 561.6 L499.6 544.0 L503.0 531.6 L506.5 529.0 L509.9 525.6 L513.3 522.5 L516.8 517.6 L520.2 512.4 L523.7 510.3 L527.1 503.0 L530.5 500.6 L534.0 498.5 L537.4 495.4 L540.8 492.0 L544.3 471.2 L547.7 425.8 L551.1 401.4 L554.6 390.0 L558.0 385.6 L561.5 382.5 L564.9 380.8 L568.3 381.3 L571.8 383.5 L575.2 381.2 L578.6 379.3 L582.1 379.2 L585.5 379.3 L588.9 381.2 L592.4 383.7 L595.8 386.3 L599.3 388.6 L602.7 392.8 L606.1 396.4 L609.6 400.5 L613.0 400.0 L616.4 400.9 L619.9 402.1 L623.3 403.0 L626.8 403.2 L630.2 405.6 L633.6 409.1 L637.1 411.0 L640.5 412.7 L643.9 415.2 L647.4 417.8 L650.8 420.1 L654.2 422.2 L657.7 424.1 L661.1 426.0 L664.6 427.3 L668.0 429.3 L671.4 430.7 L674.9 430.0 L678.3 429.8 L681.7 427.9 L685.2 427.8 L688.6 428.9 L692.0 430.2 L695.5 432.2 L698.9 434.5 L702.4 436.6 L705.8 439.0 L709.2 440.4 L712.7 441.2 L716.1 442.4 L719.5 444.9 L723.0 447.0 L726.4 449.8 L729.8 452.5 L733.3 453.9 L736.7 454.7 L740.2 454.4 L743.6 455.8 L747.0 459.3 L750.5 462.4 L753.9 464.4 L757.3 466.0 L760.8 467.4 L764.2 468.9 L767.7 469.9 L771.1 471.5 L774.5 473.2 L778.0 474.0 L781.4 471.6 L784.8 469.0 L788.3 467.3 L791.7 467.2 L795.1 467.0 L798.6 466.5 L802.0 466.1 L805.5 465.7 L808.9 459.5 L812.3 449.4 L815.8 442.8 L819.2 445.1 L822.6 446.0 L826.1 441.4 L829.5 435.4 L832.9 433.9 L836.4 432.2 L839.8 428.4 L843.3 410.8 L846.7 401.9 L850.1 388.2 L853.6 386.2 L857.0 382.6 L860.4 381.3 L863.9 381.1 L867.3 382.2 L870.7 381.6 L874.2 374.9 L877.6 370.6 L881.1 367.2 L884.5 365.8 L887.9 362.9 L891.4 360.7 L894.8 357.7 L898.2 356.3 L901.7 357.2 L905.1 357.9 L908.6 358.4 L912.0 359.4 L915.4 361.9 L918.9 362.5 L922.3 363.7 L925.7 364.6 L929.2 364.4 L932.6 365.1 L936.0 366.3 L939.5 368.7 L942.9 372.5 L946.4 376.3 L949.8 380.8 L953.2 385.0 L956.7 388.8 L960.1 391.9 L963.5 394.8 L967.0 398.3 L970.4 401.2 L973.8 401.9 L977.3 401.8 L980.7 402.7 L984.2 403.5 L987.6 405.9 L991.0 407.7 L994.5 410.0 L997.9 412.4 L1001.3 413.7 L1004.8 414.5 L1008.2 415.9 L1011.6 417.0 L1015.1 418.1 L1018.5 417.8 L1022.0 416.6 L1025.4 416.3 L1028.8 416.1 L1032.3 415.9 L1035.7 414.4 L1039.1 413.8 L1042.6 413.3 L1046.0 408.5 L1049.5 405.1 L1052.9 403.3 L1056.3 403.2 L1059.8 403.5 L1063.2 403.7 L1066.6 403.7 L1070.1 403.6 L1073.5 401.5 L1076.9 400.0 L1080.4 398.8 L1083.8 397.9 L1087.3 397.0 L1090.7 396.8 L1094.1 397.3 L1097.6 397.7 L1101.0 397.9 L1104.4 397.2 L1107.9 396.2 L1111.3 395.8 L1114.7 396.4 L1118.2 396.9 L1121.6 397.6 L1125.1 398.3 L1128.5 399.2 L1131.9 400.2 L1135.4 400.5 L1138.8 399.6 L1142.2 399.5 L1145.7 398.7 L1149.1 399.0 L1152.6 398.5 L1156.0 398.8 L1159.4 398.9 L1162.9 399.5 L1166.3 392.5 L1169.7 372.6 L1173.2 356.9 L1176.6 347.4 L1180.0 337.7 L1183.5 326.5 L1186.9 319.3 L1190.4 312.8 L1193.8 306.2 L1197.2 303.5 L1200.7 301.8 L1204.1 300.3 L1207.5 298.5 L1211.0 296.4 L1214.4 294.5 L1217.8 293.3 L1221.3 293.2 L1224.7 292.1 L1228.2 286.8 L1231.6 283.9 L1235.0 281.0 L1238.5 279.4 L1241.9 277.3 L1245.3 275.8 L1248.8 275.6 L1252.2 275.1 L1255.6 275.4 L1259.1 276.7 L1262.5 278.0 L1266.0 279.5 L1269.4 280.4 L1272.8 281.5 L1276.3 283.9 L1279.7 286.0" stroke="#0b7a5f" stroke-width="1.1" fill="none" stroke-linejoin="round"/>
<path d="M152.50 767.6V770.5M155.94 765.0V825.9M159.37 757.4V783.0M162.81 761.2V775.7M166.25 695.6V764.1M169.68 705.6V749.5M173.12 737.0V767.6M176.56 718.9V769.9M179.99 712.5V769.9M183.43 578.1V715.0M186.87 605.8V704.3M190.30 638.7V663.1M193.74 644.5V670.3M197.18 663.9V679.5M200.61 662.9V694.8M204.05 688.3V716.0M207.49 678.1V702.8M210.92 695.5V730.1M214.36 727.6V769.0M217.80 746.6V785.0M221.23 760.6V787.4M224.67 750.1V820.3M228.11 778.7V810.7M231.54 790.3V804.0M234.98 797.1V829.8M238.41 762.0V829.3M241.85 766.4V782.2M245.29 775.7V784.5M248.72 778.4V787.4M252.16 774.3V788.9M255.60 772.8V790.3M259.03 775.7V785.6M262.47 778.7V793.3M265.91 783.6V791.3M269.34 736.3V784.6M272.78 692.1V742.3M276.22 643.1V697.1M279.65 649.7V675.3M283.09 666.1V691.1M286.53 680.3V698.9M289.96 691.2V705.4M293.40 698.0V710.8M296.84 708.3V728.4M300.27 718.1V741.4M303.71 732.7V749.1M307.15 736.3V748.1M310.58 744.6V752.8M314.02 748.3V772.1M317.46 733.8V758.9M320.89 717.0V747.0M324.33 712.0V729.6M327.77 723.6V744.7M331.20 741.5V750.7M334.64 736.4V743.5M338.08 738.9V754.6M341.51 739.4V747.3M344.95 739.4V764.1M348.39 760.1V784.1M351.82 775.4V791.6M355.26 770.3V792.8M358.70 785.9V797.9M362.13 776.0V800.1M365.57 734.5V779.5M369.01 761.8V770.1M372.44 765.1V782.6M375.88 757.9V780.8M379.32 737.7V764.4M382.75 738.2V747.3M386.19 735.4V747.3M389.63 738.7V745.3M393.06 741.8V771.0M396.50 750.5V772.1M399.94 751.5V764.4M403.37 760.9V770.7M406.81 766.2V772.8M410.25 749.4V771.3M413.68 756.9V767.6M417.12 740.1V762.7M420.55 758.6V770.7M423.99 761.4V772.8M427.43 766.1V769.2M430.86 767.2V771.6M434.30 739.0V772.6M437.74 733.3V752.0M441.17 729.7V750.2M444.61 731.2V747.3M448.05 739.5V751.4M451.48 746.9V762.9M454.92 749.2V764.4M458.36 756.3V771.2M461.79 751.6V767.6M465.23 751.5V823.4M468.67 760.4V768.2M472.10 763.5V782.7M475.54 757.8V778.6M478.98 713.0V771.3M482.41 568.7V749.9M485.85 621.8V647.0M489.29 502.5V633.8M492.72 425.1V512.7M496.16 434.3V513.9M499.60 447.8V476.2M503.03 441.4V473.9M506.47 461.5V519.0M509.91 479.6V508.0M513.34 481.9V500.5M516.78 448.2V507.1M520.22 459.0V484.4M523.65 472.3V505.9M527.09 452.4V493.7M530.53 448.7V482.7M533.96 479.2V489.9M537.40 456.2V485.8M540.84 454.4V473.9M544.27 359.7V465.7M547.71 275.2V379.6M551.15 250.8V312.5M554.58 298.3V360.9M558.02 323.3V396.8M561.46 334.5V360.8M564.89 342.9V375.2M568.33 365.2V400.4M571.77 384.7V414.0M575.20 354.9V410.4M578.64 352.5V363.8M582.08 362.3V380.3M585.51 377.8V399.2M588.95 378.3V404.3M592.38 396.8V419.5M595.82 402.8V419.0M599.26 402.8V418.3M602.69 412.7V451.9M606.13 430.3V464.5M609.57 433.9V456.6M613.00 371.6V462.1M616.44 388.4V410.0M619.88 408.5V430.8M623.31 410.3V418.3M626.75 396.8V414.3M630.19 402.6V433.7M633.62 431.2V454.2M637.06 414.7V454.5M640.50 427.8V433.0M643.93 427.9V445.9M647.37 442.4V453.0M650.81 444.3V451.8M654.24 436.7V448.7M657.68 443.9V446.4M661.12 444.4V455.4M664.55 430.3V447.3M667.99 436.3V452.1M671.43 438.2V453.0M674.86 409.5V446.8M678.30 410.4V428.9M681.74 405.2V428.4M685.17 407.5V428.2M688.61 423.1V452.5M692.05 437.6V444.4M695.48 441.9V469.8M698.92 452.2V465.0M702.36 459.7V461.4M705.79 441.2V472.8M709.23 453.1V469.3M712.67 443.6V456.6M716.10 446.6V457.4M719.54 452.9V473.8M722.98 467.4V475.8M726.41 469.9V492.2M729.85 481.1V487.9M733.29 462.3V486.1M736.72 461.5V475.9M740.16 436.0V465.5M743.60 446.0V473.1M747.03 469.1V531.0M750.47 498.2V517.8M753.90 479.5V500.7M757.34 481.1V489.1M760.78 467.5V491.5M764.21 478.3V484.8M767.65 475.9V485.3M771.09 480.2V488.9M774.52 485.9V495.1M777.96 477.1V492.5M781.40 441.7V482.9M784.83 442.4V452.8M788.27 441.2V456.2M791.71 452.7V466.1M795.14 464.7V473.5M798.58 459.3V469.9M802.02 460.8V465.3M805.45 461.3V470.4M808.89 407.7V464.3M812.33 369.4V419.1M815.76 383.8V398.2M819.20 397.2V493.4M822.64 430.4V475.9M826.07 404.1V465.2M829.51 373.0V408.2M832.95 383.8V423.9M836.38 407.7V422.9M839.82 391.0V418.3M843.26 316.3V400.8M846.69 298.8V347.5M850.13 302.4V349.0M853.57 306.0V383.8M857.00 341.9V370.4M860.44 351.5V372.6M863.88 370.1V404.1M867.31 378.5V395.7M870.75 370.6V402.9M874.19 325.1V378.6M877.62 323.9V340.3M881.06 321.1V342.2M884.50 338.2V361.0M887.93 332.3V355.4M891.37 333.5V343.1M894.81 329.9V352.7M898.24 325.1V345.3M901.68 343.8V389.0M905.12 363.1V371.8M908.55 347.9V366.1M911.99 360.7V370.9M915.43 366.9V396.9M918.86 356.7V391.5M922.30 367.2V388.6M925.74 370.1V386.9M929.17 361.0V374.1M932.61 357.3V375.6M936.04 372.1V381.7M939.48 377.2V396.8M942.92 394.8V439.7M946.35 418.6V429.1M949.79 423.2V450.6M953.23 440.6V447.0M956.66 436.2V447.0M960.10 423.4V438.7M963.54 425.9V432.4M966.97 427.5V443.1M970.41 426.7V445.4M973.85 397.4V438.6M977.28 399.1V420.2M980.72 398.5V420.2M984.16 405.6V415.3M987.59 408.2V442.9M991.03 421.0V436.4M994.47 426.0V436.9M997.90 432.9V439.5M1001.34 423.4V447.3M1004.78 418.6V429.0M1008.21 420.2V431.9M1011.65 423.4V432.4M1015.09 427.6V434.3M1018.52 407.7V433.2M1021.96 394.2V416.3M1025.40 400.7V415.9M1028.83 408.8V416.9M1032.27 412.2V421.3M1035.71 397.4V416.1M1039.14 396.3V409.8M1042.58 407.8V412.9M1046.02 356.0V409.3M1049.45 362.8V379.9M1052.89 376.3V391.4M1056.33 385.7V416.9M1059.76 398.2V407.9M1063.20 404.1V412.9M1066.64 399.1V408.0M1070.07 399.3V410.4M1073.51 383.6V403.8M1076.95 373.9V393.4M1080.38 385.2V394.2M1083.82 379.1V392.6M1087.26 384.4V391.3M1090.69 386.1V405.6M1094.13 393.5V406.4M1097.57 401.0V407.7M1101.00 394.2V402.5M1104.44 382.8V400.4M1107.87 373.9V391.4M1111.31 382.8V394.1M1114.75 386.1V419.7M1118.18 400.8V409.6M1121.62 395.8V408.0M1125.06 398.2V406.6M1128.49 404.1V413.2M1131.93 406.3V412.1M1135.37 396.6V427.5M1138.80 386.5V406.4M1142.24 383.9V417.7M1145.68 387.2V401.2M1149.11 391.2V405.6M1152.55 390.1V403.8M1155.99 383.3V405.1M1159.42 395.8V403.0M1162.86 396.6V408.0M1166.30 330.0V406.5M1169.73 279.4V345.9M1173.17 261.9V296.2M1176.61 267.2V293.8M1180.04 274.0V292.5M1183.48 249.4V285.0M1186.92 250.0V274.4M1190.35 264.0V301.2M1193.79 260.0V294.0M1197.23 259.0V296.2M1200.66 271.2V290.0M1204.10 283.8V310.0M1207.54 281.2V290.6M1210.97 275.2V288.8M1214.41 269.0V281.5M1217.85 277.6V290.0M1221.28 280.0V296.2M1224.72 280.6V293.5M1228.16 243.1V284.5M1231.59 243.1V266.9M1235.03 250.0V261.9M1238.47 256.2V266.4M1241.90 254.4V267.5M1245.34 256.0V267.5M1248.78 257.2V323.1M1252.21 268.8V285.0M1255.65 268.1V278.8M1259.09 271.6V300.0M1262.52 281.9V295.0M1265.96 285.6V302.5M1269.39 288.1V300.6M1272.83 277.5V293.8M1276.27 291.9V315.6M1279.70 308.1V314.4" stroke="#6c6c6c" stroke-width="1.2" fill="none"/>
<rect x="151.27" y="769.4" width="2.46" height="0.2" fill="#56987a" stroke="#174a2c" stroke-width="0.95"/>
<rect x="154.71" y="769.4" width="2.46" height="3.9" fill="#d7503c" stroke="#5e0c04" stroke-width="0.95"/>
<rect x="158.14" y="770.9" width="2.46" height="2.4" fill="#56987a" stroke="#174a2c" stroke-width="0.95"/>
<rect x="161.58" y="763.0" width="2.46" height="7.1" fill="#56987a" stroke="#174a2c" stroke-width="0.95"/>
<rect x="165.02" y="707.0" width="2.46" height="55.2" fill="#56987a" stroke="#174a2c" stroke-width="0.95"/>
<rect x="168.45" y="707.0" width="2.46" height="33.3" fill="#d7503c" stroke="#5e0c04" stroke-width="0.95"/>
<rect x="171.89" y="741.2" width="2.46" height="16.7" fill="#d7503c" stroke="#5e0c04" stroke-width="0.95"/>
<rect x="175.33" y="738.2" width="2.46" height="19.6" fill="#56987a" stroke="#174a2c" stroke-width="0.95"/>
<rect x="178.76" y="714.9" width="2.46" height="22.5" fill="#56987a" stroke="#174a2c" stroke-width="0.95"/>
<rect x="182.20" y="621.6" width="2.46" height="92.5" fill="#56987a" stroke="#174a2c" stroke-width="0.95"/>
<rect x="185.64" y="621.6" width="2.46" height="40.6" fill="#d7503c" stroke="#5e0c04" stroke-width="0.95"/>
<rect x="189.07" y="652.2" width="2.46" height="10.0" fill="#56987a" stroke="#174a2c" stroke-width="0.95"/>
<rect x="192.51" y="652.2" width="2.46" height="14.7" fill="#d7503c" stroke="#5e0c04" stroke-width="0.95"/>
<rect x="195.95" y="664.8" width="2.46" height="2.1" fill="#56987a" stroke="#174a2c" stroke-width="0.95"/>
<rect x="199.38" y="664.8" width="2.46" height="26.6" fill="#d7503c" stroke="#5e0c04" stroke-width="0.95"/>
<rect x="202.82" y="692.2" width="2.46" height="9.7" fill="#d7503c" stroke="#5e0c04" stroke-width="0.95"/>
<rect x="206.26" y="698.9" width="2.46" height="3.0" fill="#56987a" stroke="#174a2c" stroke-width="0.95"/>
<rect x="209.69" y="698.9" width="2.46" height="29.8" fill="#d7503c" stroke="#5e0c04" stroke-width="0.95"/>
<rect x="213.13" y="729.5" width="2.46" height="38.6" fill="#d7503c" stroke="#5e0c04" stroke-width="0.95"/>
<rect x="216.57" y="768.9" width="2.46" height="15.2" fill="#d7503c" stroke="#5e0c04" stroke-width="0.95"/>
<rect x="220.00" y="772.6" width="2.46" height="11.4" fill="#56987a" stroke="#174a2c" stroke-width="0.95"/>
<rect x="223.44" y="772.6" width="2.46" height="35.6" fill="#d7503c" stroke="#5e0c04" stroke-width="0.95"/>
<rect x="226.88" y="802.4" width="2.46" height="5.9" fill="#56987a" stroke="#174a2c" stroke-width="0.95"/>
<rect x="230.31" y="798.0" width="2.46" height="3.6" fill="#56987a" stroke="#174a2c" stroke-width="0.95"/>
<rect x="233.75" y="798.0" width="2.46" height="30.4" fill="#d7503c" stroke="#5e0c04" stroke-width="0.95"/>
<rect x="237.19" y="778.2" width="2.46" height="50.2" fill="#56987a" stroke="#174a2c" stroke-width="0.95"/>
<rect x="240.62" y="778.2" width="2.46" height="0.7" fill="#d7503c" stroke="#5e0c04" stroke-width="0.95"/>
<rect x="244.06" y="779.6" width="2.46" height="0.4" fill="#d7503c" stroke="#5e0c04" stroke-width="0.95"/>
<rect x="247.49" y="780.8" width="2.46" height="3.3" fill="#d7503c" stroke="#5e0c04" stroke-width="0.95"/>
<rect x="250.93" y="781.4" width="2.46" height="2.7" fill="#56987a" stroke="#174a2c" stroke-width="0.95"/>
<rect x="254.37" y="779.6" width="2.46" height="0.9" fill="#56987a" stroke="#174a2c" stroke-width="0.95"/>
<rect x="257.80" y="779.6" width="2.46" height="5.0" fill="#d7503c" stroke="#5e0c04" stroke-width="0.95"/>
<rect x="261.24" y="785.5" width="2.46" height="4.4" fill="#d7503c" stroke="#5e0c04" stroke-width="0.95"/>
<rect x="264.68" y="784.5" width="2.46" height="5.4" fill="#56987a" stroke="#174a2c" stroke-width="0.95"/>
<rect x="268.11" y="739.7" width="2.46" height="44.0" fill="#56987a" stroke="#174a2c" stroke-width="0.95"/>
<rect x="271.55" y="695.5" width="2.46" height="43.4" fill="#56987a" stroke="#174a2c" stroke-width="0.95"/>
<rect x="274.99" y="652.3" width="2.46" height="42.5" fill="#56987a" stroke="#174a2c" stroke-width="0.95"/>
<rect x="278.42" y="652.3" width="2.46" height="22.2" fill="#d7503c" stroke="#5e0c04" stroke-width="0.95"/>
<rect x="281.86" y="675.2" width="2.46" height="14.5" fill="#d7503c" stroke="#5e0c04" stroke-width="0.95"/>
<rect x="285.30" y="690.5" width="2.46" height="7.5" fill="#d7503c" stroke="#5e0c04" stroke-width="0.95"/>
<rect x="288.73" y="698.8" width="2.46" height="1.8" fill="#d7503c" stroke="#5e0c04" stroke-width="0.95"/>
<rect x="292.17" y="701.4" width="2.46" height="7.9" fill="#d7503c" stroke="#5e0c04" stroke-width="0.95"/>
<rect x="295.61" y="710.2" width="2.46" height="9.5" fill="#d7503c" stroke="#5e0c04" stroke-width="0.95"/>
<rect x="299.04" y="720.5" width="2.46" height="19.5" fill="#d7503c" stroke="#5e0c04" stroke-width="0.95"/>
<rect x="302.48" y="739.7" width="2.46" height="0.3" fill="#56987a" stroke="#174a2c" stroke-width="0.95"/>
<rect x="305.92" y="739.7" width="2.46" height="7.5" fill="#d7503c" stroke="#5e0c04" stroke-width="0.95"/>
<rect x="309.35" y="748.0" width="2.46" height="2.9" fill="#d7503c" stroke="#5e0c04" stroke-width="0.95"/>
<rect x="312.79" y="751.7" width="2.46" height="5.8" fill="#d7503c" stroke="#5e0c04" stroke-width="0.95"/>
<rect x="316.23" y="746.9" width="2.46" height="10.6" fill="#56987a" stroke="#174a2c" stroke-width="0.95"/>
<rect x="319.66" y="724.8" width="2.46" height="21.3" fill="#56987a" stroke="#174a2c" stroke-width="0.95"/>
<rect x="323.10" y="724.8" width="2.46" height="1.4" fill="#d7503c" stroke="#5e0c04" stroke-width="0.95"/>
<rect x="326.54" y="727.0" width="2.46" height="16.2" fill="#d7503c" stroke="#5e0c04" stroke-width="0.95"/>
<rect x="329.97" y="743.4" width="2.46" height="0.2" fill="#56987a" stroke="#174a2c" stroke-width="0.95"/>
<rect x="333.41" y="742.3" width="2.46" height="0.3" fill="#56987a" stroke="#174a2c" stroke-width="0.95"/>
<rect x="336.85" y="742.3" width="2.46" height="1.6" fill="#d7503c" stroke="#5e0c04" stroke-width="0.95"/>
<rect x="340.28" y="740.3" width="2.46" height="3.6" fill="#56987a" stroke="#174a2c" stroke-width="0.95"/>
<rect x="343.72" y="740.3" width="2.46" height="20.4" fill="#d7503c" stroke="#5e0c04" stroke-width="0.95"/>
<rect x="347.16" y="761.5" width="2.46" height="18.2" fill="#d7503c" stroke="#5e0c04" stroke-width="0.95"/>
<rect x="350.59" y="780.6" width="2.46" height="8.6" fill="#d7503c" stroke="#5e0c04" stroke-width="0.95"/>
<rect x="354.03" y="789.3" width="2.46" height="0.2" fill="#56987a" stroke="#174a2c" stroke-width="0.95"/>
<rect x="357.47" y="789.3" width="2.46" height="6.0" fill="#d7503c" stroke="#5e0c04" stroke-width="0.95"/>
<rect x="360.90" y="778.4" width="2.46" height="16.9" fill="#56987a" stroke="#174a2c" stroke-width="0.95"/>
<rect x="364.34" y="765.9" width="2.46" height="11.7" fill="#56987a" stroke="#174a2c" stroke-width="0.95"/>
<rect x="367.78" y="765.9" width="2.46" height="1.8" fill="#d7503c" stroke="#5e0c04" stroke-width="0.95"/>
<rect x="371.21" y="768.5" width="2.46" height="10.1" fill="#d7503c" stroke="#5e0c04" stroke-width="0.95"/>
<rect x="374.65" y="763.3" width="2.46" height="15.4" fill="#56987a" stroke="#174a2c" stroke-width="0.95"/>
<rect x="378.09" y="740.1" width="2.46" height="22.4" fill="#56987a" stroke="#174a2c" stroke-width="0.95"/>
<rect x="381.52" y="740.1" width="2.46" height="5.8" fill="#d7503c" stroke="#5e0c04" stroke-width="0.95"/>
<rect x="384.96" y="740.1" width="2.46" height="5.8" fill="#56987a" stroke="#174a2c" stroke-width="0.95"/>
<rect x="388.40" y="740.1" width="2.46" height="4.2" fill="#d7503c" stroke="#5e0c04" stroke-width="0.95"/>
<rect x="391.83" y="745.2" width="2.46" height="23.9" fill="#d7503c" stroke="#5e0c04" stroke-width="0.95"/>
<rect x="395.27" y="753.9" width="2.46" height="15.2" fill="#56987a" stroke="#174a2c" stroke-width="0.95"/>
<rect x="398.71" y="753.9" width="2.46" height="8.6" fill="#d7503c" stroke="#5e0c04" stroke-width="0.95"/>
<rect x="402.14" y="763.3" width="2.46" height="5.5" fill="#d7503c" stroke="#5e0c04" stroke-width="0.95"/>
<rect x="405.58" y="769.6" width="2.46" height="0.8" fill="#d7503c" stroke="#5e0c04" stroke-width="0.95"/>
<rect x="409.01" y="757.8" width="2.46" height="12.5" fill="#56987a" stroke="#174a2c" stroke-width="0.95"/>
<rect x="412.45" y="757.8" width="2.46" height="2.1" fill="#d7503c" stroke="#5e0c04" stroke-width="0.95"/>
<rect x="415.89" y="760.8" width="2.46" height="0.2" fill="#d7503c" stroke="#5e0c04" stroke-width="0.95"/>
<rect x="419.32" y="762.0" width="2.46" height="6.3" fill="#d7503c" stroke="#5e0c04" stroke-width="0.95"/>
<rect x="422.76" y="768.6" width="2.46" height="0.2" fill="#56987a" stroke="#174a2c" stroke-width="0.95"/>
<rect x="426.20" y="768.2" width="2.46" height="0.2" fill="#56987a" stroke="#174a2c" stroke-width="0.95"/>
<rect x="429.63" y="769.1" width="2.46" height="1.1" fill="#d7503c" stroke="#5e0c04" stroke-width="0.95"/>
<rect x="433.07" y="746.5" width="2.46" height="23.7" fill="#56987a" stroke="#174a2c" stroke-width="0.95"/>
<rect x="436.51" y="746.5" width="2.46" height="2.8" fill="#d7503c" stroke="#5e0c04" stroke-width="0.95"/>
<rect x="439.94" y="732.1" width="2.46" height="17.2" fill="#56987a" stroke="#174a2c" stroke-width="0.95"/>
<rect x="443.38" y="732.1" width="2.46" height="9.9" fill="#d7503c" stroke="#5e0c04" stroke-width="0.95"/>
<rect x="446.82" y="742.9" width="2.46" height="5.1" fill="#d7503c" stroke="#5e0c04" stroke-width="0.95"/>
<rect x="450.25" y="748.8" width="2.46" height="12.2" fill="#d7503c" stroke="#5e0c04" stroke-width="0.95"/>
<rect x="453.69" y="751.1" width="2.46" height="9.9" fill="#56987a" stroke="#174a2c" stroke-width="0.95"/>
<rect x="457.13" y="758.7" width="2.46" height="9.1" fill="#d7503c" stroke="#5e0c04" stroke-width="0.95"/>
<rect x="460.56" y="754.0" width="2.46" height="3.9" fill="#56987a" stroke="#174a2c" stroke-width="0.95"/>
<rect x="464.00" y="754.0" width="2.46" height="8.4" fill="#d7503c" stroke="#5e0c04" stroke-width="0.95"/>
<rect x="467.44" y="763.1" width="2.46" height="0.4" fill="#d7503c" stroke="#5e0c04" stroke-width="0.95"/>
<rect x="470.87" y="764.4" width="2.46" height="7.7" fill="#d7503c" stroke="#5e0c04" stroke-width="0.95"/>
<rect x="474.31" y="764.9" width="2.46" height="7.2" fill="#56987a" stroke="#174a2c" stroke-width="0.95"/>
<rect x="477.75" y="732.7" width="2.46" height="31.5" fill="#56987a" stroke="#174a2c" stroke-width="0.95"/>
<rect x="481.18" y="626.8" width="2.46" height="105.1" fill="#56987a" stroke="#174a2c" stroke-width="0.95"/>
<rect x="484.62" y="626.8" width="2.46" height="6.1" fill="#d7503c" stroke="#5e0c04" stroke-width="0.95"/>
<rect x="488.06" y="511.6" width="2.46" height="121.3" fill="#56987a" stroke="#174a2c" stroke-width="0.95"/>
<rect x="491.49" y="442.7" width="2.46" height="68.1" fill="#56987a" stroke="#174a2c" stroke-width="0.95"/>
<rect x="494.93" y="442.7" width="2.46" height="6.8" fill="#d7503c" stroke="#5e0c04" stroke-width="0.95"/>
<rect x="498.37" y="450.2" width="2.46" height="7.9" fill="#d7503c" stroke="#5e0c04" stroke-width="0.95"/>
<rect x="501.80" y="458.9" width="2.46" height="2.6" fill="#d7503c" stroke="#5e0c04" stroke-width="0.95"/>
<rect x="505.24" y="462.4" width="2.46" height="44.8" fill="#d7503c" stroke="#5e0c04" stroke-width="0.95"/>
<rect x="508.68" y="499.4" width="2.46" height="7.7" fill="#56987a" stroke="#174a2c" stroke-width="0.95"/>
<rect x="512.11" y="498.3" width="2.46" height="0.3" fill="#56987a" stroke="#174a2c" stroke-width="0.95"/>
<rect x="515.55" y="481.8" width="2.46" height="15.7" fill="#56987a" stroke="#174a2c" stroke-width="0.95"/>
<rect x="518.99" y="475.4" width="2.46" height="5.6" fill="#56987a" stroke="#174a2c" stroke-width="0.95"/>
<rect x="522.42" y="475.4" width="2.46" height="16.4" fill="#d7503c" stroke="#5e0c04" stroke-width="0.95"/>
<rect x="525.86" y="454.8" width="2.46" height="37.0" fill="#56987a" stroke="#174a2c" stroke-width="0.95"/>
<rect x="529.30" y="454.8" width="2.46" height="25.5" fill="#d7503c" stroke="#5e0c04" stroke-width="0.95"/>
<rect x="532.73" y="481.1" width="2.46" height="0.2" fill="#d7503c" stroke="#5e0c04" stroke-width="0.95"/>
<rect x="536.17" y="470.8" width="2.46" height="10.0" fill="#56987a" stroke="#174a2c" stroke-width="0.95"/>
<rect x="539.61" y="465.6" width="2.46" height="4.5" fill="#56987a" stroke="#174a2c" stroke-width="0.95"/>
<rect x="543.04" y="378.0" width="2.46" height="86.7" fill="#56987a" stroke="#174a2c" stroke-width="0.95"/>
<rect x="546.48" y="293.5" width="2.46" height="83.7" fill="#56987a" stroke="#174a2c" stroke-width="0.95"/>
<rect x="549.92" y="293.5" width="2.46" height="5.9" fill="#d7503c" stroke="#5e0c04" stroke-width="0.95"/>
<rect x="553.35" y="300.2" width="2.46" height="23.6" fill="#d7503c" stroke="#5e0c04" stroke-width="0.95"/>
<rect x="556.79" y="324.7" width="2.46" height="27.4" fill="#d7503c" stroke="#5e0c04" stroke-width="0.95"/>
<rect x="560.23" y="352.9" width="2.46" height="4.5" fill="#d7503c" stroke="#5e0c04" stroke-width="0.95"/>
<rect x="563.66" y="358.2" width="2.46" height="7.1" fill="#d7503c" stroke="#5e0c04" stroke-width="0.95"/>
<rect x="567.10" y="366.1" width="2.46" height="20.3" fill="#d7503c" stroke="#5e0c04" stroke-width="0.95"/>
<rect x="570.54" y="387.1" width="2.46" height="20.0" fill="#d7503c" stroke="#5e0c04" stroke-width="0.95"/>
<rect x="573.97" y="362.5" width="2.46" height="44.7" fill="#56987a" stroke="#174a2c" stroke-width="0.95"/>
<rect x="577.41" y="362.5" width="2.46" height="0.4" fill="#d7503c" stroke="#5e0c04" stroke-width="0.95"/>
<rect x="580.85" y="363.7" width="2.46" height="14.8" fill="#d7503c" stroke="#5e0c04" stroke-width="0.95"/>
<rect x="584.28" y="379.2" width="2.46" height="0.2" fill="#d7503c" stroke="#5e0c04" stroke-width="0.95"/>
<rect x="587.72" y="379.7" width="2.46" height="22.2" fill="#d7503c" stroke="#5e0c04" stroke-width="0.95"/>
<rect x="591.15" y="402.7" width="2.46" height="9.7" fill="#d7503c" stroke="#5e0c04" stroke-width="0.95"/>
<rect x="594.59" y="413.2" width="2.46" height="1.8" fill="#d7503c" stroke="#5e0c04" stroke-width="0.95"/>
<rect x="598.03" y="415.1" width="2.46" height="0.2" fill="#56987a" stroke="#174a2c" stroke-width="0.95"/>
<rect x="601.46" y="415.1" width="2.46" height="34.4" fill="#d7503c" stroke="#5e0c04" stroke-width="0.95"/>
<rect x="604.90" y="442.6" width="2.46" height="6.9" fill="#56987a" stroke="#174a2c" stroke-width="0.95"/>
<rect x="608.34" y="442.6" width="2.46" height="11.9" fill="#d7503c" stroke="#5e0c04" stroke-width="0.95"/>
<rect x="611.77" y="396.0" width="2.46" height="58.6" fill="#56987a" stroke="#174a2c" stroke-width="0.95"/>
<rect x="615.21" y="396.0" width="2.46" height="13.1" fill="#d7503c" stroke="#5e0c04" stroke-width="0.95"/>
<rect x="618.65" y="409.9" width="2.46" height="4.0" fill="#d7503c" stroke="#5e0c04" stroke-width="0.95"/>
<rect x="622.08" y="412.7" width="2.46" height="1.1" fill="#56987a" stroke="#174a2c" stroke-width="0.95"/>
<rect x="625.52" y="406.0" width="2.46" height="5.9" fill="#56987a" stroke="#174a2c" stroke-width="0.95"/>
<rect x="628.96" y="406.0" width="2.46" height="25.8" fill="#d7503c" stroke="#5e0c04" stroke-width="0.95"/>
<rect x="632.39" y="432.6" width="2.46" height="19.5" fill="#d7503c" stroke="#5e0c04" stroke-width="0.95"/>
<rect x="635.83" y="431.9" width="2.46" height="20.3" fill="#56987a" stroke="#174a2c" stroke-width="0.95"/>
<rect x="639.27" y="431.2" width="2.46" height="0.2" fill="#56987a" stroke="#174a2c" stroke-width="0.95"/>
<rect x="642.70" y="431.2" width="2.46" height="12.4" fill="#d7503c" stroke="#5e0c04" stroke-width="0.95"/>
<rect x="646.14" y="444.3" width="2.46" height="3.5" fill="#d7503c" stroke="#5e0c04" stroke-width="0.95"/>
<rect x="649.58" y="446.7" width="2.46" height="1.1" fill="#56987a" stroke="#174a2c" stroke-width="0.95"/>
<rect x="653.01" y="445.8" width="2.46" height="0.2" fill="#56987a" stroke="#174a2c" stroke-width="0.95"/>
<rect x="656.45" y="445.3" width="2.46" height="0.2" fill="#56987a" stroke="#174a2c" stroke-width="0.95"/>
<rect x="659.89" y="445.3" width="2.46" height="0.6" fill="#d7503c" stroke="#5e0c04" stroke-width="0.95"/>
<rect x="663.32" y="441.0" width="2.46" height="4.9" fill="#56987a" stroke="#174a2c" stroke-width="0.95"/>
<rect x="666.76" y="441.0" width="2.46" height="9.7" fill="#d7503c" stroke="#5e0c04" stroke-width="0.95"/>
<rect x="670.20" y="446.2" width="2.46" height="4.5" fill="#56987a" stroke="#174a2c" stroke-width="0.95"/>
<rect x="673.63" y="423.5" width="2.46" height="21.9" fill="#56987a" stroke="#174a2c" stroke-width="0.95"/>
<rect x="677.07" y="423.5" width="2.46" height="4.0" fill="#d7503c" stroke="#5e0c04" stroke-width="0.95"/>
<rect x="680.51" y="412.7" width="2.46" height="14.8" fill="#56987a" stroke="#174a2c" stroke-width="0.95"/>
<rect x="683.94" y="412.7" width="2.46" height="13.1" fill="#d7503c" stroke="#5e0c04" stroke-width="0.95"/>
<rect x="687.38" y="426.6" width="2.46" height="13.6" fill="#d7503c" stroke="#5e0c04" stroke-width="0.95"/>
<rect x="690.82" y="441.0" width="2.46" height="2.1" fill="#d7503c" stroke="#5e0c04" stroke-width="0.95"/>
<rect x="694.25" y="443.8" width="2.46" height="9.5" fill="#d7503c" stroke="#5e0c04" stroke-width="0.95"/>
<rect x="697.69" y="454.1" width="2.46" height="5.7" fill="#d7503c" stroke="#5e0c04" stroke-width="0.95"/>
<rect x="701.13" y="460.6" width="2.46" height="0.2" fill="#d7503c" stroke="#5e0c04" stroke-width="0.95"/>
<rect x="704.56" y="460.8" width="2.46" height="5.2" fill="#d7503c" stroke="#5e0c04" stroke-width="0.95"/>
<rect x="708.00" y="455.5" width="2.46" height="10.4" fill="#56987a" stroke="#174a2c" stroke-width="0.95"/>
<rect x="711.44" y="450.0" width="2.46" height="4.7" fill="#56987a" stroke="#174a2c" stroke-width="0.95"/>
<rect x="714.87" y="450.0" width="2.46" height="4.0" fill="#d7503c" stroke="#5e0c04" stroke-width="0.95"/>
<rect x="718.31" y="454.8" width="2.46" height="17.6" fill="#d7503c" stroke="#5e0c04" stroke-width="0.95"/>
<rect x="721.75" y="470.8" width="2.46" height="1.6" fill="#56987a" stroke="#174a2c" stroke-width="0.95"/>
<rect x="725.18" y="470.8" width="2.46" height="11.9" fill="#d7503c" stroke="#5e0c04" stroke-width="0.95"/>
<rect x="728.62" y="483.5" width="2.46" height="0.2" fill="#56987a" stroke="#174a2c" stroke-width="0.95"/>
<rect x="732.06" y="469.1" width="2.46" height="13.6" fill="#56987a" stroke="#174a2c" stroke-width="0.95"/>
<rect x="735.49" y="463.9" width="2.46" height="4.5" fill="#56987a" stroke="#174a2c" stroke-width="0.95"/>
<rect x="738.93" y="451.2" width="2.46" height="11.9" fill="#56987a" stroke="#174a2c" stroke-width="0.95"/>
<rect x="742.37" y="451.2" width="2.46" height="19.5" fill="#d7503c" stroke="#5e0c04" stroke-width="0.95"/>
<rect x="745.80" y="471.5" width="2.46" height="31.5" fill="#d7503c" stroke="#5e0c04" stroke-width="0.95"/>
<rect x="749.24" y="499.1" width="2.46" height="4.0" fill="#56987a" stroke="#174a2c" stroke-width="0.95"/>
<rect x="752.67" y="486.6" width="2.46" height="11.6" fill="#56987a" stroke="#174a2c" stroke-width="0.95"/>
<rect x="756.11" y="483.5" width="2.46" height="2.3" fill="#56987a" stroke="#174a2c" stroke-width="0.95"/>
<rect x="759.55" y="483.0" width="2.46" height="0.2" fill="#56987a" stroke="#174a2c" stroke-width="0.95"/>
<rect x="762.98" y="483.0" width="2.46" height="0.9" fill="#d7503c" stroke="#5e0c04" stroke-width="0.95"/>
<rect x="766.42" y="481.1" width="2.46" height="2.8" fill="#56987a" stroke="#174a2c" stroke-width="0.95"/>
<rect x="769.86" y="481.1" width="2.46" height="6.4" fill="#d7503c" stroke="#5e0c04" stroke-width="0.95"/>
<rect x="773.29" y="488.3" width="2.46" height="2.8" fill="#d7503c" stroke="#5e0c04" stroke-width="0.95"/>
<rect x="776.73" y="482.8" width="2.46" height="8.3" fill="#56987a" stroke="#174a2c" stroke-width="0.95"/>
<rect x="780.17" y="451.7" width="2.46" height="30.3" fill="#56987a" stroke="#174a2c" stroke-width="0.95"/>
<rect x="783.60" y="448.1" width="2.46" height="2.8" fill="#56987a" stroke="#174a2c" stroke-width="0.95"/>
<rect x="787.04" y="448.1" width="2.46" height="4.7" fill="#d7503c" stroke="#5e0c04" stroke-width="0.95"/>
<rect x="790.48" y="453.6" width="2.46" height="11.6" fill="#d7503c" stroke="#5e0c04" stroke-width="0.95"/>
<rect x="793.91" y="465.6" width="2.46" height="0.2" fill="#56987a" stroke="#174a2c" stroke-width="0.95"/>
<rect x="797.35" y="462.7" width="2.46" height="2.1" fill="#56987a" stroke="#174a2c" stroke-width="0.95"/>
<rect x="800.79" y="462.2" width="2.46" height="0.2" fill="#56987a" stroke="#174a2c" stroke-width="0.95"/>
<rect x="804.22" y="462.2" width="2.46" height="0.2" fill="#d7503c" stroke="#5e0c04" stroke-width="0.95"/>
<rect x="807.66" y="416.5" width="2.46" height="45.9" fill="#56987a" stroke="#174a2c" stroke-width="0.95"/>
<rect x="811.10" y="389.0" width="2.46" height="26.7" fill="#56987a" stroke="#174a2c" stroke-width="0.95"/>
<rect x="814.53" y="389.0" width="2.46" height="8.3" fill="#d7503c" stroke="#5e0c04" stroke-width="0.95"/>
<rect x="817.97" y="398.1" width="2.46" height="72.7" fill="#d7503c" stroke="#5e0c04" stroke-width="0.95"/>
<rect x="821.41" y="455.5" width="2.46" height="15.2" fill="#56987a" stroke="#174a2c" stroke-width="0.95"/>
<rect x="824.84" y="407.6" width="2.46" height="47.1" fill="#56987a" stroke="#174a2c" stroke-width="0.95"/>
<rect x="828.28" y="393.7" width="2.46" height="13.1" fill="#56987a" stroke="#174a2c" stroke-width="0.95"/>
<rect x="831.72" y="393.7" width="2.46" height="26.7" fill="#d7503c" stroke="#5e0c04" stroke-width="0.95"/>
<rect x="835.15" y="417.7" width="2.46" height="2.8" fill="#56987a" stroke="#174a2c" stroke-width="0.95"/>
<rect x="838.59" y="399.7" width="2.46" height="17.2" fill="#56987a" stroke="#174a2c" stroke-width="0.95"/>
<rect x="842.03" y="325.5" width="2.46" height="73.4" fill="#56987a" stroke="#174a2c" stroke-width="0.95"/>
<rect x="845.46" y="325.5" width="2.46" height="20.0" fill="#d7503c" stroke="#5e0c04" stroke-width="0.95"/>
<rect x="848.90" y="314.8" width="2.46" height="30.8" fill="#56987a" stroke="#174a2c" stroke-width="0.95"/>
<rect x="852.34" y="314.8" width="2.46" height="53.8" fill="#d7503c" stroke="#5e0c04" stroke-width="0.95"/>
<rect x="855.77" y="355.0" width="2.46" height="13.6" fill="#56987a" stroke="#174a2c" stroke-width="0.95"/>
<rect x="859.21" y="355.0" width="2.46" height="15.2" fill="#d7503c" stroke="#5e0c04" stroke-width="0.95"/>
<rect x="862.65" y="371.0" width="2.46" height="7.6" fill="#d7503c" stroke="#5e0c04" stroke-width="0.95"/>
<rect x="866.08" y="379.4" width="2.46" height="13.1" fill="#d7503c" stroke="#5e0c04" stroke-width="0.95"/>
<rect x="869.52" y="377.0" width="2.46" height="15.5" fill="#56987a" stroke="#174a2c" stroke-width="0.95"/>
<rect x="872.96" y="329.6" width="2.46" height="46.6" fill="#56987a" stroke="#174a2c" stroke-width="0.95"/>
<rect x="876.39" y="329.6" width="2.46" height="8.3" fill="#d7503c" stroke="#5e0c04" stroke-width="0.95"/>
<rect x="879.83" y="338.7" width="2.46" height="1.1" fill="#d7503c" stroke="#5e0c04" stroke-width="0.95"/>
<rect x="883.27" y="340.6" width="2.46" height="12.8" fill="#d7503c" stroke="#5e0c04" stroke-width="0.95"/>
<rect x="886.70" y="339.4" width="2.46" height="14.0" fill="#56987a" stroke="#174a2c" stroke-width="0.95"/>
<rect x="890.14" y="339.4" width="2.46" height="2.8" fill="#d7503c" stroke="#5e0c04" stroke-width="0.95"/>
<rect x="893.58" y="333.9" width="2.46" height="8.3" fill="#56987a" stroke="#174a2c" stroke-width="0.95"/>
<rect x="897.01" y="333.9" width="2.46" height="10.0" fill="#d7503c" stroke="#5e0c04" stroke-width="0.95"/>
<rect x="900.45" y="344.7" width="2.46" height="21.5" fill="#d7503c" stroke="#5e0c04" stroke-width="0.95"/>
<rect x="903.89" y="365.0" width="2.46" height="1.1" fill="#56987a" stroke="#174a2c" stroke-width="0.95"/>
<rect x="907.32" y="363.1" width="2.46" height="1.1" fill="#56987a" stroke="#174a2c" stroke-width="0.95"/>
<rect x="910.76" y="363.1" width="2.46" height="6.4" fill="#d7503c" stroke="#5e0c04" stroke-width="0.95"/>
<rect x="914.20" y="370.3" width="2.46" height="20.3" fill="#d7503c" stroke="#5e0c04" stroke-width="0.95"/>
<rect x="917.63" y="368.6" width="2.46" height="21.9" fill="#56987a" stroke="#174a2c" stroke-width="0.95"/>
<rect x="921.07" y="368.6" width="2.46" height="7.1" fill="#d7503c" stroke="#5e0c04" stroke-width="0.95"/>
<rect x="924.50" y="373.5" width="2.46" height="2.3" fill="#56987a" stroke="#174a2c" stroke-width="0.95"/>
<rect x="927.94" y="362.9" width="2.46" height="9.8" fill="#56987a" stroke="#174a2c" stroke-width="0.95"/>
<rect x="931.38" y="362.9" width="2.46" height="9.3" fill="#d7503c" stroke="#5e0c04" stroke-width="0.95"/>
<rect x="934.81" y="373.0" width="2.46" height="5.4" fill="#d7503c" stroke="#5e0c04" stroke-width="0.95"/>
<rect x="938.25" y="379.1" width="2.46" height="16.7" fill="#d7503c" stroke="#5e0c04" stroke-width="0.95"/>
<rect x="941.69" y="396.7" width="2.46" height="23.6" fill="#d7503c" stroke="#5e0c04" stroke-width="0.95"/>
<rect x="945.12" y="421.1" width="2.46" height="4.7" fill="#d7503c" stroke="#5e0c04" stroke-width="0.95"/>
<rect x="948.56" y="426.6" width="2.46" height="15.1" fill="#d7503c" stroke="#5e0c04" stroke-width="0.95"/>
<rect x="952.00" y="442.5" width="2.46" height="0.3" fill="#d7503c" stroke="#5e0c04" stroke-width="0.95"/>
<rect x="955.43" y="437.6" width="2.46" height="5.2" fill="#56987a" stroke="#174a2c" stroke-width="0.95"/>
<rect x="958.87" y="429.5" width="2.46" height="7.3" fill="#56987a" stroke="#174a2c" stroke-width="0.95"/>
<rect x="962.31" y="429.5" width="2.46" height="0.2" fill="#d7503c" stroke="#5e0c04" stroke-width="0.95"/>
<rect x="965.74" y="430.0" width="2.46" height="11.7" fill="#d7503c" stroke="#5e0c04" stroke-width="0.95"/>
<rect x="969.18" y="436.0" width="2.46" height="5.7" fill="#56987a" stroke="#174a2c" stroke-width="0.95"/>
<rect x="972.62" y="408.7" width="2.46" height="26.5" fill="#56987a" stroke="#174a2c" stroke-width="0.95"/>
<rect x="976.05" y="401.9" width="2.46" height="6.0" fill="#56987a" stroke="#174a2c" stroke-width="0.95"/>
<rect x="979.49" y="401.9" width="2.46" height="9.4" fill="#d7503c" stroke="#5e0c04" stroke-width="0.95"/>
<rect x="982.93" y="411.6" width="2.46" height="0.2" fill="#56987a" stroke="#174a2c" stroke-width="0.95"/>
<rect x="986.36" y="411.6" width="2.46" height="21.1" fill="#d7503c" stroke="#5e0c04" stroke-width="0.95"/>
<rect x="989.80" y="427.9" width="2.46" height="4.9" fill="#56987a" stroke="#174a2c" stroke-width="0.95"/>
<rect x="993.24" y="427.9" width="2.46" height="7.6" fill="#d7503c" stroke="#5e0c04" stroke-width="0.95"/>
<rect x="996.67" y="436.3" width="2.46" height="1.8" fill="#d7503c" stroke="#5e0c04" stroke-width="0.95"/>
<rect x="1000.11" y="428.4" width="2.46" height="9.8" fill="#56987a" stroke="#174a2c" stroke-width="0.95"/>
<rect x="1003.55" y="423.0" width="2.46" height="4.6" fill="#56987a" stroke="#174a2c" stroke-width="0.95"/>
<rect x="1006.98" y="423.0" width="2.46" height="6.5" fill="#d7503c" stroke="#5e0c04" stroke-width="0.95"/>
<rect x="1010.42" y="429.0" width="2.46" height="0.5" fill="#56987a" stroke="#174a2c" stroke-width="0.95"/>
<rect x="1013.86" y="429.0" width="2.46" height="0.2" fill="#d7503c" stroke="#5e0c04" stroke-width="0.95"/>
<rect x="1017.29" y="415.7" width="2.46" height="13.0" fill="#56987a" stroke="#174a2c" stroke-width="0.95"/>
<rect x="1020.73" y="406.4" width="2.46" height="8.5" fill="#56987a" stroke="#174a2c" stroke-width="0.95"/>
<rect x="1024.17" y="406.4" width="2.46" height="6.0" fill="#d7503c" stroke="#5e0c04" stroke-width="0.95"/>
<rect x="1027.60" y="413.3" width="2.46" height="1.1" fill="#d7503c" stroke="#5e0c04" stroke-width="0.95"/>
<rect x="1031.04" y="414.6" width="2.46" height="0.2" fill="#56987a" stroke="#174a2c" stroke-width="0.95"/>
<rect x="1034.48" y="401.6" width="2.46" height="12.2" fill="#56987a" stroke="#174a2c" stroke-width="0.95"/>
<rect x="1037.91" y="401.6" width="2.46" height="6.3" fill="#d7503c" stroke="#5e0c04" stroke-width="0.95"/>
<rect x="1041.35" y="408.7" width="2.46" height="0.2" fill="#d7503c" stroke="#5e0c04" stroke-width="0.95"/>
<rect x="1044.79" y="373.5" width="2.46" height="34.9" fill="#56987a" stroke="#174a2c" stroke-width="0.95"/>
<rect x="1048.22" y="373.5" width="2.46" height="4.6" fill="#d7503c" stroke="#5e0c04" stroke-width="0.95"/>
<rect x="1051.66" y="378.8" width="2.46" height="8.5" fill="#d7503c" stroke="#5e0c04" stroke-width="0.95"/>
<rect x="1055.10" y="388.1" width="2.46" height="14.1" fill="#d7503c" stroke="#5e0c04" stroke-width="0.95"/>
<rect x="1058.53" y="403.0" width="2.46" height="2.9" fill="#d7503c" stroke="#5e0c04" stroke-width="0.95"/>
<rect x="1061.97" y="405.5" width="2.46" height="0.5" fill="#56987a" stroke="#174a2c" stroke-width="0.95"/>
<rect x="1065.41" y="404.3" width="2.46" height="0.3" fill="#56987a" stroke="#174a2c" stroke-width="0.95"/>
<rect x="1068.84" y="402.7" width="2.46" height="0.8" fill="#56987a" stroke="#174a2c" stroke-width="0.95"/>
<rect x="1072.28" y="384.3" width="2.46" height="17.6" fill="#56987a" stroke="#174a2c" stroke-width="0.95"/>
<rect x="1075.72" y="384.3" width="2.46" height="2.4" fill="#d7503c" stroke="#5e0c04" stroke-width="0.95"/>
<rect x="1079.15" y="387.6" width="2.46" height="0.2" fill="#d7503c" stroke="#5e0c04" stroke-width="0.95"/>
<rect x="1082.59" y="388.4" width="2.46" height="1.0" fill="#d7503c" stroke="#5e0c04" stroke-width="0.95"/>
<rect x="1086.03" y="389.7" width="2.46" height="0.2" fill="#56987a" stroke="#174a2c" stroke-width="0.95"/>
<rect x="1089.46" y="389.7" width="2.46" height="4.9" fill="#d7503c" stroke="#5e0c04" stroke-width="0.95"/>
<rect x="1092.90" y="395.4" width="2.46" height="6.5" fill="#d7503c" stroke="#5e0c04" stroke-width="0.95"/>
<rect x="1096.34" y="401.9" width="2.46" height="0.2" fill="#56987a" stroke="#174a2c" stroke-width="0.95"/>
<rect x="1099.77" y="400.3" width="2.46" height="0.8" fill="#56987a" stroke="#174a2c" stroke-width="0.95"/>
<rect x="1103.21" y="390.8" width="2.46" height="8.6" fill="#56987a" stroke="#174a2c" stroke-width="0.95"/>
<rect x="1106.64" y="387.6" width="2.46" height="2.4" fill="#56987a" stroke="#174a2c" stroke-width="0.95"/>
<rect x="1110.08" y="387.6" width="2.46" height="4.1" fill="#d7503c" stroke="#5e0c04" stroke-width="0.95"/>
<rect x="1113.52" y="392.5" width="2.46" height="9.4" fill="#d7503c" stroke="#5e0c04" stroke-width="0.95"/>
<rect x="1116.95" y="402.2" width="2.46" height="0.2" fill="#56987a" stroke="#174a2c" stroke-width="0.95"/>
<rect x="1120.39" y="402.2" width="2.46" height="2.4" fill="#d7503c" stroke="#5e0c04" stroke-width="0.95"/>
<rect x="1123.83" y="405.5" width="2.46" height="0.2" fill="#56987a" stroke="#174a2c" stroke-width="0.95"/>
<rect x="1127.26" y="405.5" width="2.46" height="2.4" fill="#d7503c" stroke="#5e0c04" stroke-width="0.95"/>
<rect x="1130.70" y="408.7" width="2.46" height="1.6" fill="#d7503c" stroke="#5e0c04" stroke-width="0.95"/>
<rect x="1134.14" y="403.8" width="2.46" height="6.5" fill="#56987a" stroke="#174a2c" stroke-width="0.95"/>
<rect x="1137.57" y="391.8" width="2.46" height="11.2" fill="#56987a" stroke="#174a2c" stroke-width="0.95"/>
<rect x="1141.01" y="391.8" width="2.46" height="6.0" fill="#d7503c" stroke="#5e0c04" stroke-width="0.95"/>
<rect x="1144.45" y="392.1" width="2.46" height="5.7" fill="#56987a" stroke="#174a2c" stroke-width="0.95"/>
<rect x="1147.88" y="392.1" width="2.46" height="9.3" fill="#d7503c" stroke="#5e0c04" stroke-width="0.95"/>
<rect x="1151.32" y="394.1" width="2.46" height="7.3" fill="#56987a" stroke="#174a2c" stroke-width="0.95"/>
<rect x="1154.76" y="394.1" width="2.46" height="7.0" fill="#d7503c" stroke="#5e0c04" stroke-width="0.95"/>
<rect x="1158.19" y="399.9" width="2.46" height="1.1" fill="#56987a" stroke="#174a2c" stroke-width="0.95"/>
<rect x="1161.63" y="399.9" width="2.46" height="5.7" fill="#d7503c" stroke="#5e0c04" stroke-width="0.95"/>
<rect x="1165.07" y="345.8" width="2.46" height="59.9" fill="#56987a" stroke="#174a2c" stroke-width="0.95"/>
<rect x="1168.50" y="281.6" width="2.46" height="63.3" fill="#56987a" stroke="#174a2c" stroke-width="0.95"/>
<rect x="1171.94" y="276.9" width="2.46" height="4.0" fill="#56987a" stroke="#174a2c" stroke-width="0.95"/>
<rect x="1175.38" y="276.9" width="2.46" height="12.1" fill="#d7503c" stroke="#5e0c04" stroke-width="0.95"/>
<rect x="1178.81" y="278.8" width="2.46" height="10.2" fill="#56987a" stroke="#174a2c" stroke-width="0.95"/>
<rect x="1182.25" y="261.6" width="2.46" height="16.3" fill="#56987a" stroke="#174a2c" stroke-width="0.95"/>
<rect x="1185.69" y="261.6" width="2.46" height="9.2" fill="#d7503c" stroke="#5e0c04" stroke-width="0.95"/>
<rect x="1189.12" y="268.1" width="2.46" height="2.7" fill="#56987a" stroke="#174a2c" stroke-width="0.95"/>
<rect x="1192.56" y="261.4" width="2.46" height="6.0" fill="#56987a" stroke="#174a2c" stroke-width="0.95"/>
<rect x="1196.00" y="261.4" width="2.46" height="19.7" fill="#d7503c" stroke="#5e0c04" stroke-width="0.95"/>
<rect x="1199.43" y="281.9" width="2.46" height="5.0" fill="#d7503c" stroke="#5e0c04" stroke-width="0.95"/>
<rect x="1202.87" y="287.6" width="2.46" height="0.2" fill="#56987a" stroke="#174a2c" stroke-width="0.95"/>
<rect x="1206.31" y="283.5" width="2.46" height="3.3" fill="#56987a" stroke="#174a2c" stroke-width="0.95"/>
<rect x="1209.74" y="279.4" width="2.46" height="3.3" fill="#56987a" stroke="#174a2c" stroke-width="0.95"/>
<rect x="1213.18" y="279.0" width="2.46" height="0.2" fill="#56987a" stroke="#174a2c" stroke-width="0.95"/>
<rect x="1216.62" y="279.0" width="2.46" height="2.8" fill="#d7503c" stroke="#5e0c04" stroke-width="0.95"/>
<rect x="1220.05" y="282.6" width="2.46" height="9.4" fill="#d7503c" stroke="#5e0c04" stroke-width="0.95"/>
<rect x="1223.49" y="282.9" width="2.46" height="9.2" fill="#56987a" stroke="#174a2c" stroke-width="0.95"/>
<rect x="1226.93" y="248.9" width="2.46" height="33.2" fill="#56987a" stroke="#174a2c" stroke-width="0.95"/>
<rect x="1230.36" y="248.9" width="2.46" height="11.3" fill="#d7503c" stroke="#5e0c04" stroke-width="0.95"/>
<rect x="1233.80" y="257.9" width="2.46" height="2.3" fill="#56987a" stroke="#174a2c" stroke-width="0.95"/>
<rect x="1237.24" y="257.9" width="2.46" height="7.1" fill="#d7503c" stroke="#5e0c04" stroke-width="0.95"/>
<rect x="1240.67" y="259.8" width="2.46" height="5.2" fill="#56987a" stroke="#174a2c" stroke-width="0.95"/>
<rect x="1244.11" y="259.8" width="2.46" height="3.0" fill="#d7503c" stroke="#5e0c04" stroke-width="0.95"/>
<rect x="1247.55" y="263.5" width="2.46" height="9.6" fill="#d7503c" stroke="#5e0c04" stroke-width="0.95"/>
<rect x="1250.98" y="271.0" width="2.46" height="2.1" fill="#56987a" stroke="#174a2c" stroke-width="0.95"/>
<rect x="1254.42" y="271.0" width="2.46" height="7.0" fill="#d7503c" stroke="#5e0c04" stroke-width="0.95"/>
<rect x="1257.86" y="278.8" width="2.46" height="11.4" fill="#d7503c" stroke="#5e0c04" stroke-width="0.95"/>
<rect x="1261.29" y="291.0" width="2.46" height="0.2" fill="#d7503c" stroke="#5e0c04" stroke-width="0.95"/>
<rect x="1264.73" y="291.3" width="2.46" height="4.0" fill="#d7503c" stroke="#5e0c04" stroke-width="0.95"/>
<rect x="1268.16" y="289.8" width="2.46" height="5.5" fill="#56987a" stroke="#174a2c" stroke-width="0.95"/>
<rect x="1271.60" y="289.8" width="2.46" height="2.3" fill="#d7503c" stroke="#5e0c04" stroke-width="0.95"/>
<rect x="1275.04" y="292.9" width="2.46" height="17.7" fill="#d7503c" stroke="#5e0c04" stroke-width="0.95"/>
<rect x="1278.47" y="310.5" width="2.46" height="0.6" fill="#56987a" stroke="#174a2c" stroke-width="0.95"/>
<line x1="1152.6" y1="249" x2="1331.5" y2="250.4" stroke="#000" stroke-width="2.6" stroke-linecap="round"/>
<line x1="1152.6" y1="312.75" x2="1331.5" y2="310.4" stroke="#000" stroke-width="2.6" stroke-linecap="round"/>
<line x1="12" x2="1513.45" y1="310.5" y2="310.5" stroke="#5fa680" stroke-width="1.3" stroke-dasharray="1.5 2"/>
</g>
<rect x="12" y="209" width="1576.2" height="1.9" fill="#55545a"/>
<rect x="12" y="856.85" width="1576.2" height="1.3" fill="#4d4d4d"/>
<rect x="1512.8" y="32" width="1.3" height="858" fill="#4d4d4d"/>
<g font-size="14" fill="#575757">
<g clip-path="url(#cax)">
<text x="1523" y="40.90" textLength="44.5" lengthAdjust="spacing">100.00</text>
<text x="1523" y="87.40" textLength="36.5" lengthAdjust="spacing">80.00</text>
<text x="1523" y="133.90" textLength="36.5" lengthAdjust="spacing">60.00</text>
</g><g clip-path="url(#cax2)">
<text x="1523" y="264.25" textLength="44.5" lengthAdjust="spacing">3.0000</text>
<text x="1523" y="297.54" textLength="44.5" lengthAdjust="spacing">2.0000</text>
<text x="1523" y="339.47" textLength="44.5" lengthAdjust="spacing">1.2000</text>
<text x="1523" y="372.76" textLength="44.5" lengthAdjust="spacing">0.8000</text>
<text x="1523" y="411.34" textLength="44.5" lengthAdjust="spacing">0.5000</text>
<text x="1523" y="453.27" textLength="44.5" lengthAdjust="spacing">0.3000</text>
<text x="1523" y="486.54" textLength="44.5" lengthAdjust="spacing">0.2000</text>
<text x="1523" y="528.46" textLength="44.5" lengthAdjust="spacing">0.1200</text>
<text x="1523" y="561.71" textLength="44.5" lengthAdjust="spacing">0.0800</text>
<text x="1523" y="600.24" textLength="44.5" lengthAdjust="spacing">0.0500</text>
<text x="1523" y="642.07" textLength="44.5" lengthAdjust="spacing">0.0300</text>
<text x="1523" y="675.22" textLength="44.5" lengthAdjust="spacing">0.0200</text>
<text x="1523" y="710.37" textLength="44.5" lengthAdjust="spacing">0.0130</text>
<text x="1523" y="749.83" textLength="44.5" lengthAdjust="spacing">0.0080</text>
<text x="1523" y="787.82" textLength="44.5" lengthAdjust="spacing">0.0050</text>
<text x="1523" y="823.56" textLength="44.5" lengthAdjust="spacing">0.0032</text>
<text x="1523" y="856.84" textLength="44.5" lengthAdjust="spacing">0.0021</text>
</g></g>
<g font-size="13" font-weight="700" fill="#454545" text-anchor="middle">
<text transform="translate(193.75,878.8) scale(1.1,1)" x="0" y="-0.6" textLength="30.91" lengthAdjust="spacing">2014</text>
<text transform="translate(282.75,878.8) scale(1.1,1)" x="0" y="-0.6" textLength="30.91" lengthAdjust="spacing">2015</text>
<text transform="translate(372.5,878.8) scale(1.1,1)" x="0" y="-0.6" textLength="30.91" lengthAdjust="spacing">2016</text>
<text transform="translate(461.9,878.8) scale(1.1,1)" x="0" y="-0.6" textLength="30.91" lengthAdjust="spacing">2017</text>
<text transform="translate(551.1,878.8) scale(1.1,1)" x="0" y="-0.6" textLength="30.91" lengthAdjust="spacing">2018</text>
<text transform="translate(643.7,878.8) scale(1.1,1)" x="0" y="-0.6" textLength="30.91" lengthAdjust="spacing">2019</text>
<text transform="translate(733,878.8) scale(1.1,1)" x="0" y="-0.6" textLength="30.91" lengthAdjust="spacing">2020</text>
<text transform="translate(822.6,878.8) scale(1.1,1)" x="0" y="-0.6" textLength="30.91" lengthAdjust="spacing">2021</text>
<text transform="translate(912.2,878.8) scale(1.1,1)" x="0" y="-0.6" textLength="30.91" lengthAdjust="spacing">2022</text>
<text transform="translate(1001.4,878.8) scale(1.1,1)" x="0" y="-0.6" textLength="30.91" lengthAdjust="spacing">2023</text>
<text transform="translate(1090.6,878.8) scale(1.1,1)" x="0" y="-0.6" textLength="30.91" lengthAdjust="spacing">2024</text>
<text transform="translate(1183.6,878.8) scale(1.1,1)" x="0" y="-0.6" textLength="30.91" lengthAdjust="spacing">2025</text>
<text transform="translate(1272.8,878.8) scale(1.1,1)" x="0" y="-0.6" textLength="30.91" lengthAdjust="spacing">2026</text>
<text transform="translate(1362.1,878.8) scale(1.1,1)" x="0" y="-0.6" textLength="30.91" lengthAdjust="spacing">2027</text>
<text transform="translate(1451.7,878.8) scale(1.1,1)" x="0" y="-0.6" textLength="30.91" lengthAdjust="spacing">2028</text>
</g>
<path d="M1513.45 171.5 H1563 a3 3 0 0 1 3 3 V187 a3 3 0 0 1 -3 3 H1513.45 Z" fill="#000"/>
<text x="1523" y="186" font-size="14" fill="#fff" textLength="36.5" lengthAdjust="spacing">38.07</text>
<rect x="1517.5" y="215.5" width="66.5" height="30.5" rx="5" fill="#fff"/>
<text x="1528" y="236" font-size="14" fill="#111" textLength="29.5" lengthAdjust="spacing">USD</text>
<path d="M1452.5 301 H1513.45 V320 H1452.5 a3 3 0 0 1 -3 -3 V304 a3 3 0 0 1 3 -3 Z" fill="#6ba684"/>
<path d="M1513.45 301 H1579 a3 3 0 0 1 3 3 V332 a3 3 0 0 1 -3 3 H1513.45 Z" fill="#6ba684"/>
<text x="1454.5" y="315.8" font-size="14" fill="#fff" textLength="53" lengthAdjust="spacing">XRPUSD</text>
<text x="1523" y="315.8" font-size="14" fill="#fff" textLength="44.5" lengthAdjust="spacing">1.6153</text>
<text x="1523" y="331.3" font-size="14" fill="#e4f1ea" textLength="52" lengthAdjust="spacing">13d 13h</text>
<text x="12.5" y="23.5" font-size="14" fill="#fff" textLength="480" lengthAdjust="spacing">bitcoinwallah created with TradingView.com, Feb 02, 2026 06:05 UTC-5</text>
<text x="21.5" y="54.9" font-size="14" fill="#4f4f4f" textLength="94.25" lengthAdjust="spacing">RSI (14, close)</text>
<text x="125.5" y="54.9" font-size="14" fill="#7e57c2" textLength="38.25" lengthAdjust="spacing">40.98</text>
<text x="172.5" y="54.9" font-size="14" fill="#fbd73c" textLength="35" lengthAdjust="spacing">51.02</text>
<text x="21.5" y="234.1" font-size="14" fill="#4f4f4f" textLength="213.5" lengthAdjust="spacing">XRP / U.S. Dollar · 2W · CRYPTO</text>
<text x="243.75" y="234.1" font-size="14" fill="#4f4f4f">O</text>
<text x="254.6" y="234.1" font-size="14" fill="#1d5c3a" textLength="45.4" lengthAdjust="spacing">1.5889</text>
<text x="308.4" y="234.1" font-size="14" fill="#4f4f4f">H</text>
<text x="318.9" y="234.1" font-size="14" fill="#1d5c3a" textLength="43.0" lengthAdjust="spacing">1.6168</text>
<text x="371" y="234.1" font-size="14" fill="#4f4f4f">L</text>
<text x="378.8" y="234.1" font-size="14" fill="#1d5c3a" textLength="44.3" lengthAdjust="spacing">1.5299</text>
<text x="432" y="234.1" font-size="14" fill="#4f4f4f">C</text>
<text x="442.6" y="234.1" font-size="14" fill="#1d5c3a" textLength="41.8" lengthAdjust="spacing">1.6153</text>
<text x="493" y="234.1" font-size="14" fill="#1d5c3a" textLength="120.4" lengthAdjust="spacing">+0.0264 (+1.66%)</text>
<text x="21.5" y="254.1" font-size="14" fill="#4f4f4f" textLength="104.75" lengthAdjust="spacing">EMA (50, close)</text>
<text x="135.25" y="254.1" font-size="14" fill="#f23645" textLength="42" lengthAdjust="spacing">1.8731</text>
<text x="21.5" y="274.1" font-size="14" fill="#4f4f4f" textLength="113.5" lengthAdjust="spacing">EMA (200, close)</text>
<text x="144.25" y="274.1" font-size="14" fill="#2962ff" textLength="46.25" lengthAdjust="spacing">0.9957</text>
<text x="21.5" y="294.1" font-size="14" fill="#4f4f4f" textLength="438" lengthAdjust="spacing">Vol: The data vendor doesn't provide volume data for this symbol.</text>
<text x="21.5" y="314.1" font-size="14" fill="#4f4f4f" textLength="104" lengthAdjust="spacing">EMA (20, close)</text>
<text x="135.25" y="314.1" font-size="14" fill="#0b7a5f" textLength="43.75" lengthAdjust="spacing">2.1687</text>
<text x="21.5" y="334.1" font-size="14" fill="#4f4f4f" textLength="111" lengthAdjust="spacing">EMA (100, close)</text>
<text x="142" y="334.1" font-size="14" fill="#673ab7" textLength="45" lengthAdjust="spacing">1.4308</text>
<path d="M14 916 H28.25 V933.5 H20.75 V923.75 H14 Z" fill="#dcdcdc"/>
<circle cx="34" cy="919.4" r="3.3" fill="#dcdcdc"/>
<path d="M40.75 916 H49 L42 933.5 H33.6 Z" fill="#dcdcdc"/>
<text x="57.5" y="933.5" font-size="24" font-weight="700" fill="#dcdcdc" textLength="142.5" lengthAdjust="spacingAndGlyphs">TradingView</text>
</svg>
</body></html>
